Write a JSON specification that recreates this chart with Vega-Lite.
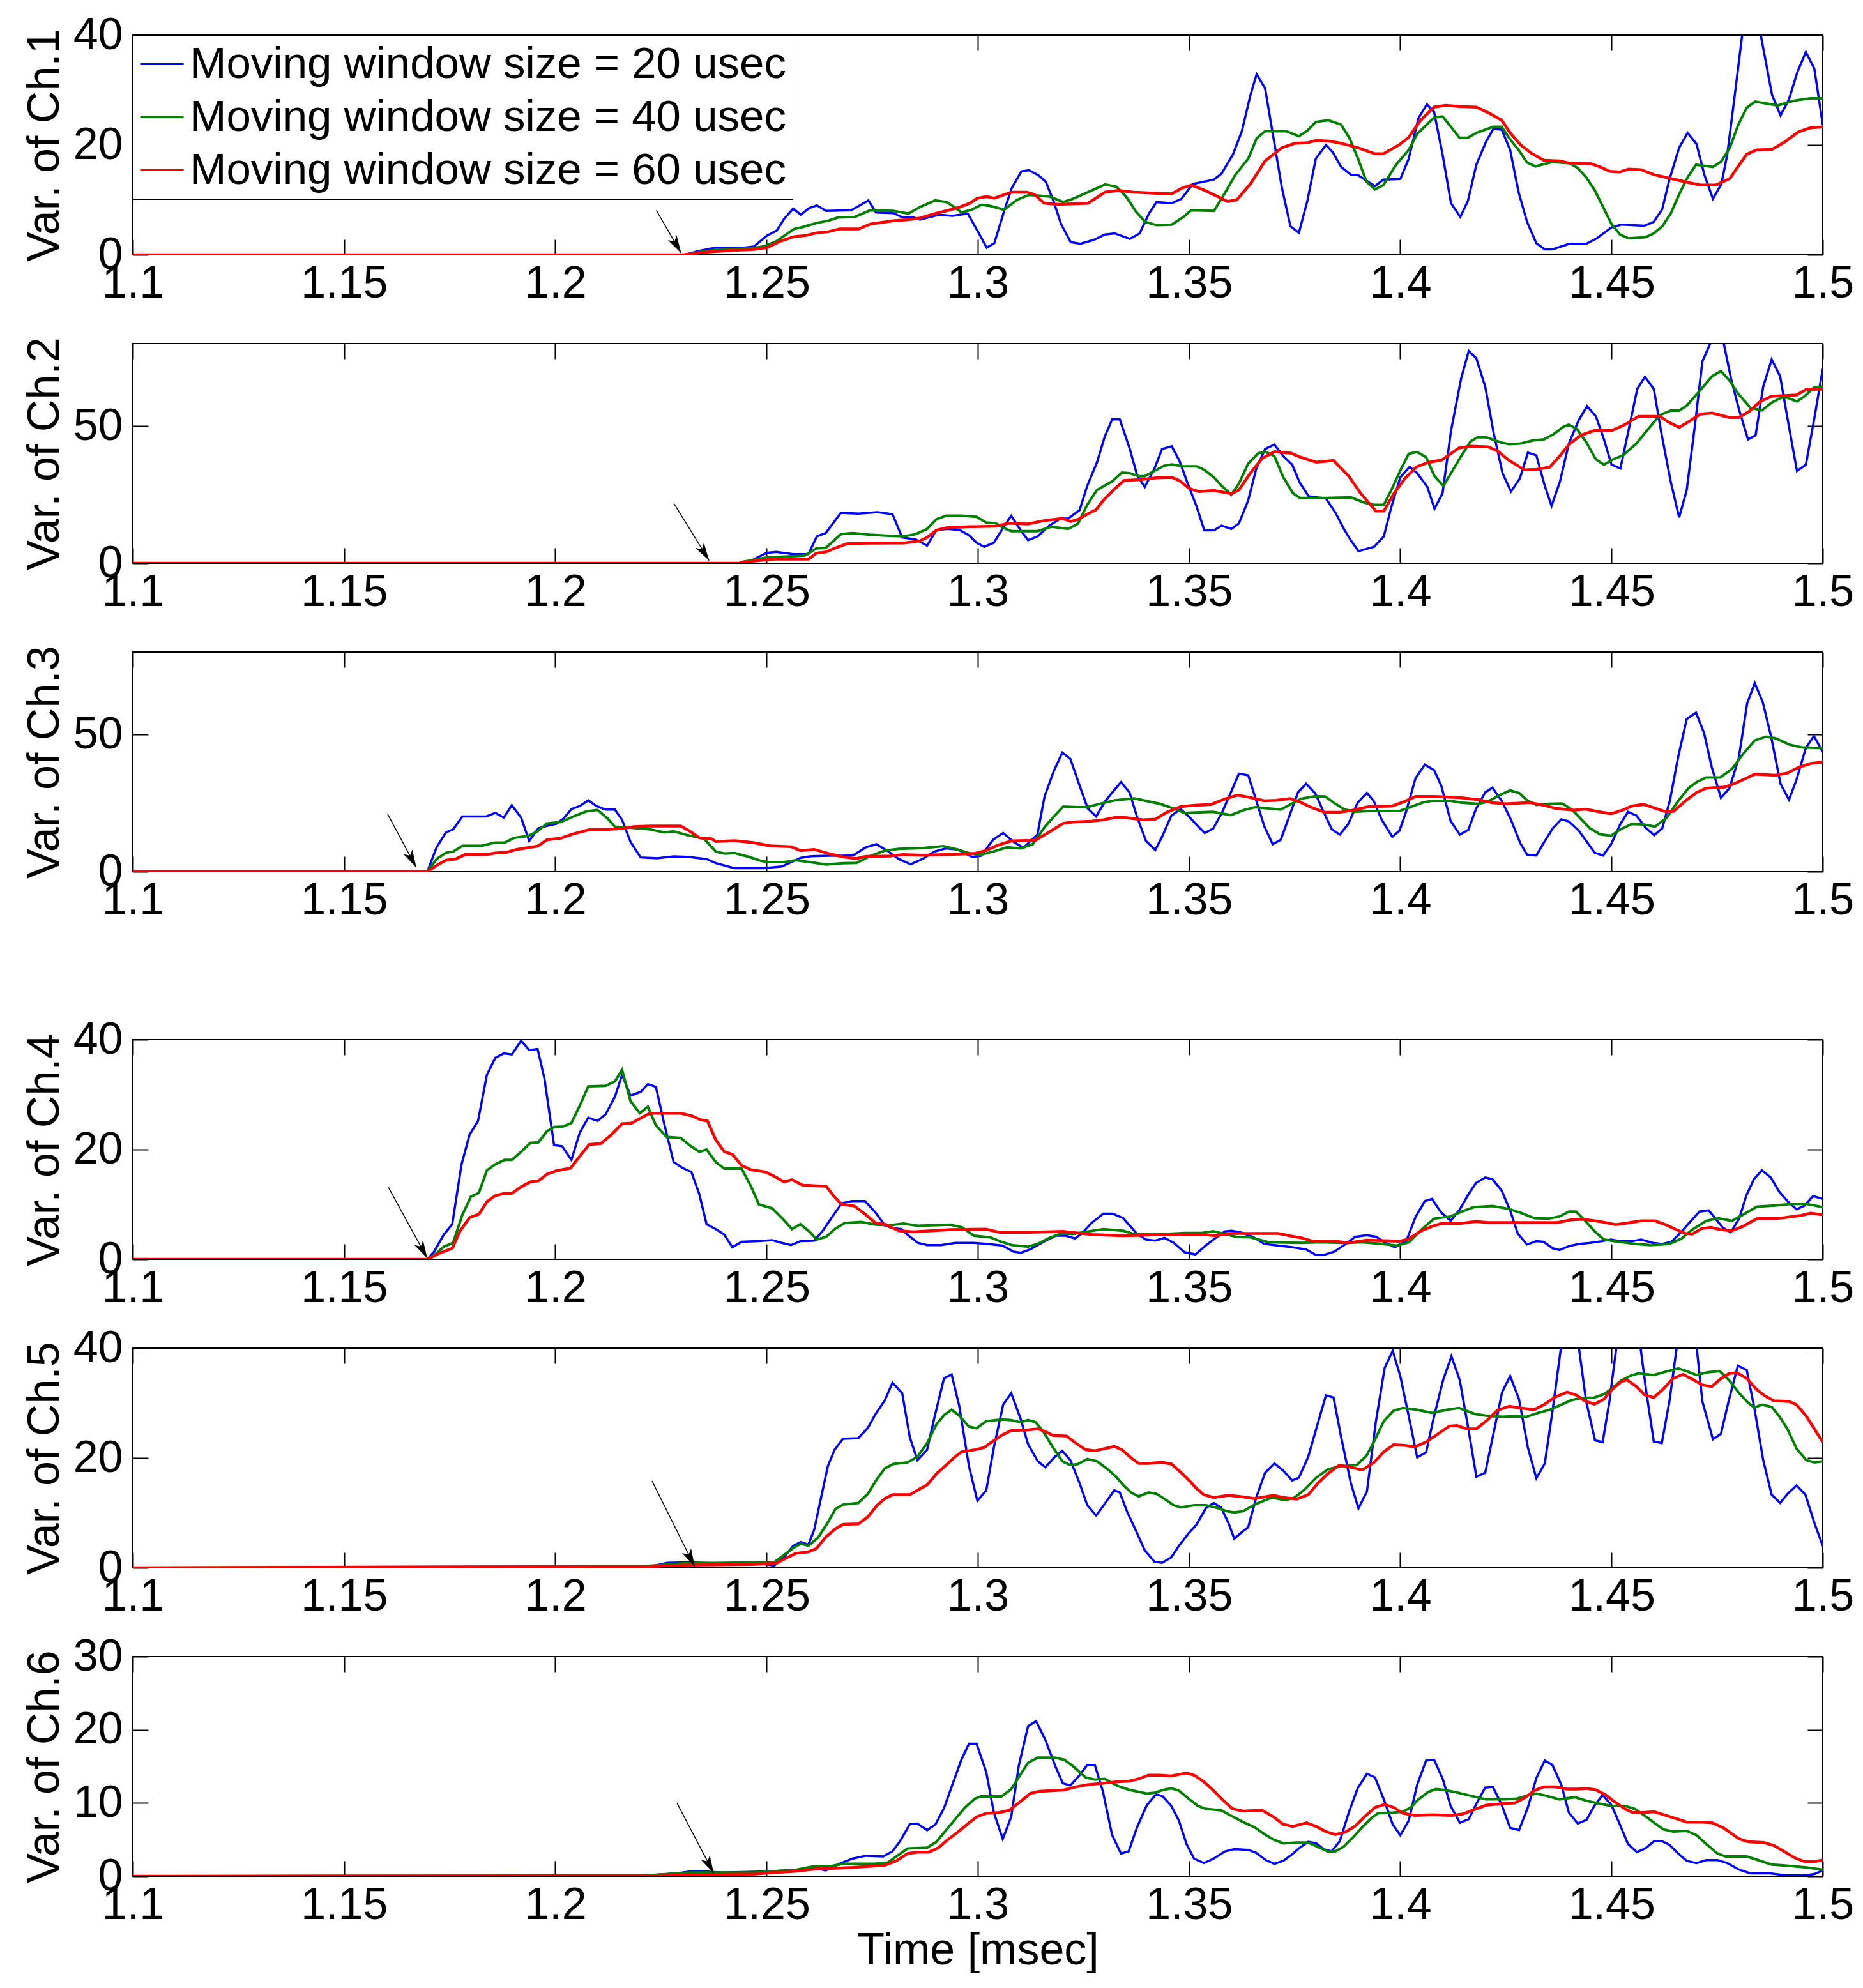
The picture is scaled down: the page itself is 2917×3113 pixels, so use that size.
{
  "$schema": "https://vega.github.io/schema/vega-lite/v6.json",
  "description": "Variance of six channels for moving window sizes of 20, 40 and 60 usec",
  "padding": {"left": 34, "top": 19, "right": 0, "bottom": 0},
  "config": {
    "font": "Liberation Sans",
    "view": {"stroke": "black", "strokeWidth": 2},
    "axis": {
      "grid": false, "domain": false, "tickColor": "black", "tickWidth": 2, "tickSize": -24,
      "labelFont": "Liberation Sans", "labelFontSize": 70, "labelColor": "black",
      "labelFlush": false, "labelOverlap": false, "labelBound": false,
      "titleFont": "Liberation Sans", "titleFontSize": 70, "titleFontWeight": "normal", "titleColor": "black"
    },
    "axisX": {"labelPadding": 35, "titlePadding": 2},
    "axisY": {"labelPadding": 40, "titlePadding": 8}
  },
  "spacing": 40,
  "bounds": "flush",
  "resolve": {"scale": {"x": "independent", "y": "independent", "color": "independent"}, "axis": {"x": "independent", "y": "independent"}, "legend": {"color": "independent"}},
  "vconcat": [
        {
          "width": 2646, "height": 344,
          "resolve": {"axis": {"x": "independent", "y": "independent"}},
          "layer": [
            {
              "data": {"values": [
                {"t":1.1,"v":0},{"t":1.2307,"v":0},{"t":1.2339,"v":0.7},{"t":1.238,"v":1.3},{"t":1.2447,"v":1.3},{"t":1.247,"v":1.5},{"t":1.2501,"v":3.5},{"t":1.2524,"v":4.4},{"t":1.2542,"v":6.6},{"t":1.2563,"v":8.4},{"t":1.2581,"v":7.3},{"t":1.2601,"v":8.5},{"t":1.2619,"v":9},{"t":1.2641,"v":8},{"t":1.27,"v":8.1},{"t":1.2723,"v":9.1},{"t":1.2741,"v":9.9},{"t":1.2759,"v":7.7},{"t":1.28,"v":7.6},{"t":1.2822,"v":6.8},{"t":1.2845,"v":6.9},{"t":1.2863,"v":6.4},{"t":1.2908,"v":7.3},{"t":1.294,"v":7.1},{"t":1.2976,"v":7.5},{"t":1.2999,"v":4.4},{"t":1.3021,"v":1.3},{"t":1.3039,"v":2.1},{"t":1.3062,"v":7.9},{"t":1.308,"v":12.1},{"t":1.3103,"v":15.2},{"t":1.3121,"v":15.4},{"t":1.3143,"v":14.5},{"t":1.3161,"v":13.3},{"t":1.3179,"v":9.8},{"t":1.3197,"v":5.6},{"t":1.322,"v":2.3},{"t":1.3243,"v":2},{"t":1.3274,"v":2.7},{"t":1.3301,"v":3.7},{"t":1.3324,"v":3.9},{"t":1.336,"v":2.9},{"t":1.3383,"v":3.9},{"t":1.3405,"v":7.5},{"t":1.3423,"v":9.6},{"t":1.3459,"v":9.4},{"t":1.3482,"v":10.2},{"t":1.3509,"v":12.9},{"t":1.3559,"v":13.7},{"t":1.3577,"v":14.8},{"t":1.3604,"v":18.3},{"t":1.3625,"v":22.5},{"t":1.3645,"v":29},{"t":1.366,"v":32.9},{"t":1.368,"v":30.3},{"t":1.372,"v":12.1},{"t":1.374,"v":5.2},{"t":1.376,"v":4},{"t":1.378,"v":9.8},{"t":1.38,"v":17.5},{"t":1.3824,"v":20},{"t":1.384,"v":18.7},{"t":1.386,"v":16},{"t":1.3883,"v":14.6},{"t":1.39,"v":14.5},{"t":1.394,"v":12.5},{"t":1.396,"v":13.7},{"t":1.4,"v":13.8},{"t":1.402,"v":17.5},{"t":1.4043,"v":24.9},{"t":1.4063,"v":27.4},{"t":1.408,"v":26},{"t":1.41,"v":18.3},{"t":1.412,"v":9.4},{"t":1.4142,"v":6.9},{"t":1.416,"v":9.8},{"t":1.418,"v":16.4},{"t":1.4203,"v":20.6},{"t":1.422,"v":22.9},{"t":1.424,"v":22.8},{"t":1.426,"v":19.1},{"t":1.428,"v":11.4},{"t":1.43,"v":6},{"t":1.4322,"v":2.1},{"t":1.4342,"v":1},{"t":1.436,"v":1},{"t":1.44,"v":2},{"t":1.444,"v":2},{"t":1.4463,"v":2.9},{"t":1.45,"v":5},{"t":1.4523,"v":5.5},{"t":1.4578,"v":5.3},{"t":1.46,"v":6},{"t":1.462,"v":8.3},{"t":1.4637,"v":13.7},{"t":1.466,"v":19.5},{"t":1.468,"v":22.2},{"t":1.4701,"v":20.2},{"t":1.472,"v":14.5},{"t":1.474,"v":10.2},{"t":1.476,"v":12.9},{"t":1.4774,"v":18.3},{"t":1.4793,"v":29.9},{"t":1.481,"v":40.5},{"t":1.483,"v":44},{"t":1.4852,"v":40.5},{"t":1.488,"v":29.1},{"t":1.49,"v":25.4},{"t":1.492,"v":28.3},{"t":1.494,"v":33.3},{"t":1.496,"v":36.9},{"t":1.498,"v":33.9},{"t":1.5,"v":23.7}
              ]},
              "mark": {"type": "line", "strokeWidth": 3.5, "clip": true},
              "encoding": {
                "x": {"field": "t", "type": "quantitative", "scale": {"domain": [1.1, 1.5], "nice": false}, "axis": {"values": [1.1,1.15,1.2,1.25,1.3,1.35,1.4,1.45,1.5], "format": ".3~f", "title": null}},
                "y": {"field": "v", "type": "quantitative", "scale": {"domain": [0, 40], "nice": false}, "axis": {"values": [0,20,40], "title": "Var. of Ch.1"}},
                "color": {"datum": 20, "type": "nominal", "scale": {"domain": [20,40,60], "range": ["#0000ff","#008000","#ff0000"]},
                  "legend": {"orient": "top-left", "offset": 0, "title": null, "labelExpr": "'Moving window size = ' + datum.label + ' usec'", "symbolType": "stroke", "symbolSize": 4624, "symbolStrokeWidth": 3, "labelFontSize": 69, "labelLimit": 2000, "labelColor": "black", "fillColor": "white", "strokeColor": "black", "padding": 10, "rowPadding": 12, "labelOffset": 8}}
              }
            },
            {
              "data": {"values": [
                {"t":1.1,"v":0},{"t":1.2307,"v":0},{"t":1.2348,"v":0.6},{"t":1.2393,"v":1},{"t":1.2465,"v":1.2},{"t":1.2492,"v":1.5},{"t":1.2524,"v":2.5},{"t":1.2565,"v":4.7},{"t":1.2583,"v":5},{"t":1.2619,"v":5.8},{"t":1.2646,"v":6.2},{"t":1.2669,"v":6.8},{"t":1.2709,"v":6.9},{"t":1.2745,"v":8.1},{"t":1.28,"v":8},{"t":1.2836,"v":7.5},{"t":1.2863,"v":8.7},{"t":1.2899,"v":9.9},{"t":1.2926,"v":9.6},{"t":1.2944,"v":8.7},{"t":1.2962,"v":7.7},{"t":1.2985,"v":8.2},{"t":1.3008,"v":9.1},{"t":1.303,"v":8.9},{"t":1.3062,"v":8.2},{"t":1.3093,"v":10},{"t":1.3121,"v":10.9},{"t":1.317,"v":10.6},{"t":1.3202,"v":9.6},{"t":1.3225,"v":10.2},{"t":1.3261,"v":11.4},{"t":1.3301,"v":12.8},{"t":1.3328,"v":12.4},{"t":1.3351,"v":10.6},{"t":1.3374,"v":7.9},{"t":1.3396,"v":6},{"t":1.3423,"v":5.4},{"t":1.3459,"v":5.5},{"t":1.3487,"v":6.9},{"t":1.3505,"v":8.1},{"t":1.3559,"v":8},{"t":1.3586,"v":11.4},{"t":1.3609,"v":14.5},{"t":1.364,"v":17.5},{"t":1.366,"v":21.2},{"t":1.368,"v":22.5},{"t":1.373,"v":22.5},{"t":1.376,"v":21.6},{"t":1.378,"v":22.6},{"t":1.38,"v":24.2},{"t":1.383,"v":24.5},{"t":1.386,"v":23.7},{"t":1.388,"v":21.2},{"t":1.39,"v":17.5},{"t":1.392,"v":13.3},{"t":1.394,"v":11.9},{"t":1.396,"v":12.7},{"t":1.399,"v":16.4},{"t":1.402,"v":19.1},{"t":1.404,"v":22},{"t":1.408,"v":25},{"t":1.41,"v":25.2},{"t":1.412,"v":23.3},{"t":1.414,"v":21.3},{"t":1.416,"v":21.3},{"t":1.418,"v":22.2},{"t":1.422,"v":23.3},{"t":1.424,"v":23.3},{"t":1.426,"v":21},{"t":1.428,"v":19.1},{"t":1.43,"v":16.8},{"t":1.432,"v":16.1},{"t":1.436,"v":16.9},{"t":1.44,"v":16.7},{"t":1.442,"v":15.8},{"t":1.444,"v":14.1},{"t":1.446,"v":11.8},{"t":1.448,"v":8.7},{"t":1.45,"v":5.6},{"t":1.452,"v":3.7},{"t":1.454,"v":3},{"t":1.458,"v":3.2},{"t":1.46,"v":3.9},{"t":1.462,"v":5.2},{"t":1.464,"v":7.5},{"t":1.466,"v":11},{"t":1.468,"v":14.1},{"t":1.47,"v":16.4},{"t":1.474,"v":16},{"t":1.476,"v":17},{"t":1.478,"v":19.5},{"t":1.48,"v":23.7},{"t":1.482,"v":26.8},{"t":1.484,"v":27.9},{"t":1.4893,"v":27.2},{"t":1.4934,"v":28.1},{"t":1.497,"v":28.5},{"t":1.5,"v":28.5}
              ]},
              "mark": {"type": "line", "strokeWidth": 4, "clip": true},
              "encoding": {
                "x": {"field": "t", "type": "quantitative", "scale": {"domain": [1.1, 1.5], "nice": false}, "axis": null},
                "y": {"field": "v", "type": "quantitative", "scale": {"domain": [0, 40], "nice": false}, "axis": null},
                "color": {"datum": 40, "type": "nominal", "scale": {"domain": [20,40,60], "range": ["#0000ff","#008000","#ff0000"]},
                  "legend": {"orient": "top-left", "offset": 0, "title": null, "labelExpr": "'Moving window size = ' + datum.label + ' usec'", "symbolType": "stroke", "symbolSize": 4624, "symbolStrokeWidth": 3, "labelFontSize": 69, "labelLimit": 2000, "labelColor": "black", "fillColor": "white", "strokeColor": "black", "padding": 10, "rowPadding": 12, "labelOffset": 8}}
              }
            },
            {
              "data": {"values": [
                {"t":1.1,"v":0},{"t":1.2302,"v":0},{"t":1.2357,"v":0.5},{"t":1.242,"v":0.8},{"t":1.247,"v":1},{"t":1.2501,"v":1.3},{"t":1.2533,"v":2.5},{"t":1.2565,"v":3.3},{"t":1.2592,"v":3.5},{"t":1.2619,"v":4},{"t":1.2646,"v":4.2},{"t":1.2673,"v":4.7},{"t":1.2718,"v":4.7},{"t":1.2745,"v":5.6},{"t":1.2773,"v":5.9},{"t":1.28,"v":6.2},{"t":1.2836,"v":6.4},{"t":1.2863,"v":6.7},{"t":1.2899,"v":7.5},{"t":1.2935,"v":8.2},{"t":1.2958,"v":8.7},{"t":1.2981,"v":9.4},{"t":1.2999,"v":10.3},{"t":1.3021,"v":10.6},{"t":1.3039,"v":10.3},{"t":1.3057,"v":10.8},{"t":1.308,"v":11.4},{"t":1.3116,"v":11.4},{"t":1.3134,"v":11},{"t":1.3157,"v":9.4},{"t":1.3188,"v":9.2},{"t":1.3261,"v":9.4},{"t":1.3301,"v":11.4},{"t":1.3333,"v":11.7},{"t":1.3369,"v":11.4},{"t":1.3423,"v":11.2},{"t":1.3459,"v":11.1},{"t":1.3482,"v":12.1},{"t":1.3505,"v":12.7},{"t":1.3532,"v":11.9},{"t":1.3568,"v":10.6},{"t":1.3591,"v":9.7},{"t":1.3613,"v":10},{"t":1.3645,"v":12.9},{"t":1.368,"v":17.1},{"t":1.372,"v":19.5},{"t":1.375,"v":20.3},{"t":1.378,"v":20.4},{"t":1.38,"v":20.8},{"t":1.3833,"v":20.7},{"t":1.386,"v":20.3},{"t":1.39,"v":19.5},{"t":1.394,"v":18.4},{"t":1.396,"v":18.4},{"t":1.3997,"v":20},{"t":1.402,"v":21.4},{"t":1.4048,"v":24.5},{"t":1.408,"v":26.9},{"t":1.4107,"v":27.2},{"t":1.414,"v":27},{"t":1.418,"v":26.9},{"t":1.421,"v":25.8},{"t":1.424,"v":24.5},{"t":1.426,"v":22.2},{"t":1.4285,"v":20},{"t":1.431,"v":18.5},{"t":1.434,"v":17.2},{"t":1.4377,"v":17.1},{"t":1.44,"v":16.7},{"t":1.445,"v":16.6},{"t":1.4473,"v":16},{"t":1.4496,"v":15.2},{"t":1.452,"v":15.1},{"t":1.454,"v":15.6},{"t":1.457,"v":15.5},{"t":1.46,"v":14.6},{"t":1.464,"v":13.9},{"t":1.468,"v":13.2},{"t":1.471,"v":12.7},{"t":1.4747,"v":12.7},{"t":1.478,"v":13.9},{"t":1.4806,"v":16.8},{"t":1.482,"v":18.3},{"t":1.4843,"v":19.1},{"t":1.488,"v":19.2},{"t":1.4907,"v":20.4},{"t":1.4943,"v":22.4},{"t":1.497,"v":23.1},{"t":1.5,"v":23.3}
              ]},
              "mark": {"type": "line", "strokeWidth": 4.5, "clip": true},
              "encoding": {
                "x": {"field": "t", "type": "quantitative", "scale": {"domain": [1.1, 1.5], "nice": false}, "axis": null},
                "y": {"field": "v", "type": "quantitative", "scale": {"domain": [0, 40], "nice": false}, "axis": null},
                "color": {"datum": 60, "type": "nominal", "scale": {"domain": [20,40,60], "range": ["#0000ff","#008000","#ff0000"]},
                  "legend": {"orient": "top-left", "offset": 0, "title": null, "labelExpr": "'Moving window size = ' + datum.label + ' usec'", "symbolType": "stroke", "symbolSize": 4624, "symbolStrokeWidth": 3, "labelFontSize": 69, "labelLimit": 2000, "labelColor": "black", "fillColor": "white", "strokeColor": "black", "padding": 10, "rowPadding": 12, "labelOffset": 8}}
              }
            },
            {
              "data": {"values": [{"t":1.2239,"v":8.1,"t2":1.2298,"v2":0.3}]},
              "mark": {"type": "rule", "color": "black", "strokeWidth": 1.5},
              "encoding": {
                "x": {"field": "t", "type": "quantitative", "scale": {"domain": [1.1, 1.5], "nice": false}, "axis": {"orient": "top", "values": [1.1,1.15,1.2,1.25,1.3,1.35,1.4,1.45,1.5], "labels": false, "title": null}},
                "y": {"field": "v", "type": "quantitative", "scale": {"domain": [0, 40], "nice": false}, "axis": {"orient": "right", "values": [0,20,40], "labels": false, "title": null}},
                "x2": {"field": "t2"}, "y2": {"field": "v2"}
              }
            },
            {
              "data": {"values": [{"t":1.2239,"v":8.1,"t2":1.2298,"v2":0.3}]},
              "mark": {"type": "point", "shape": "M0,0L-0.28,-1L0,-0.75L0.28,-1Z", "filled": true, "size": 3136, "angle": -30, "color": "black", "opacity": 1, "strokeWidth": 0},
              "encoding": {
                "x": {"field": "t2", "type": "quantitative", "scale": {"domain": [1.1, 1.5], "nice": false}, "axis": null},
                "y": {"field": "v2", "type": "quantitative", "scale": {"domain": [0, 40], "nice": false}, "axis": null}
              }
            }
          ]
        },
        {"width": 2646, "height": 59, "view": {"stroke": null}, "data": {"values": [{"gap": 1}]}, "mark": {"type": "text", "text": ""}},
        {
          "width": 2646, "height": 344,
          "resolve": {"axis": {"x": "independent", "y": "independent"}},
          "layer": [
            {
              "data": {"values": [
                {"t":1.1,"v":0},{"t":1.2446,"v":0},{"t":1.2464,"v":1},{"t":1.25,"v":3.8},{"t":1.2523,"v":4.1},{"t":1.2563,"v":3.3},{"t":1.2599,"v":3.3},{"t":1.2619,"v":9.8},{"t":1.264,"v":11},{"t":1.2676,"v":18.4},{"t":1.2717,"v":18.1},{"t":1.2762,"v":18.6},{"t":1.2798,"v":17.9},{"t":1.2821,"v":9.4},{"t":1.2853,"v":8.7},{"t":1.288,"v":6.4},{"t":1.2902,"v":12.1},{"t":1.2929,"v":12.5},{"t":1.2957,"v":12.1},{"t":1.2979,"v":10.2},{"t":1.2997,"v":7.5},{"t":1.3015,"v":6},{"t":1.3038,"v":7.5},{"t":1.306,"v":12.9},{"t":1.3079,"v":17.3},{"t":1.3101,"v":12.1},{"t":1.3119,"v":8.4},{"t":1.3142,"v":9.8},{"t":1.3169,"v":13.7},{"t":1.3196,"v":16.3},{"t":1.3214,"v":16.3},{"t":1.3241,"v":19.4},{"t":1.3259,"v":28.2},{"t":1.3282,"v":36.7},{"t":1.33,"v":45.9},{"t":1.3318,"v":52.4},{"t":1.3336,"v":52.4},{"t":1.3359,"v":42},{"t":1.3377,"v":32.1},{"t":1.3395,"v":27.8},{"t":1.3418,"v":34.4},{"t":1.3436,"v":41.6},{"t":1.3459,"v":42.6},{"t":1.3477,"v":37.4},{"t":1.3495,"v":29.8},{"t":1.3518,"v":20.6},{"t":1.3536,"v":12},{"t":1.3559,"v":12},{"t":1.3577,"v":13.7},{"t":1.36,"v":12.5},{"t":1.3618,"v":14.5},{"t":1.364,"v":22.9},{"t":1.3659,"v":34.4},{"t":1.368,"v":41.6},{"t":1.3702,"v":43.2},{"t":1.3723,"v":39},{"t":1.3744,"v":35.9},{"t":1.3762,"v":29.4},{"t":1.3783,"v":24.4},{"t":1.3824,"v":23.6},{"t":1.3847,"v":18.3},{"t":1.3865,"v":12.9},{"t":1.3883,"v":8.3},{"t":1.3901,"v":4.4},{"t":1.3938,"v":6},{"t":1.3961,"v":9.8},{"t":1.3979,"v":20.6},{"t":1.4,"v":31.3},{"t":1.4022,"v":35.1},{"t":1.404,"v":32.8},{"t":1.4064,"v":27.8},{"t":1.4081,"v":19.9},{"t":1.41,"v":25.5},{"t":1.412,"v":48.2},{"t":1.4144,"v":67.3},{"t":1.4162,"v":77.3},{"t":1.418,"v":74.6},{"t":1.4201,"v":64.3},{"t":1.4221,"v":47.4},{"t":1.4242,"v":32.8},{"t":1.4262,"v":26.1},{"t":1.4283,"v":30.9},{"t":1.4302,"v":40.3},{"t":1.4322,"v":39.3},{"t":1.4342,"v":28.2},{"t":1.4358,"v":20.9},{"t":1.4378,"v":29.8},{"t":1.4399,"v":43.6},{"t":1.4422,"v":52},{"t":1.4442,"v":57.2},{"t":1.4463,"v":53.5},{"t":1.4482,"v":45.1},{"t":1.45,"v":35.9},{"t":1.4521,"v":34.5},{"t":1.4541,"v":48.9},{"t":1.4561,"v":63.5},{"t":1.4579,"v":67.9},{"t":1.46,"v":63.5},{"t":1.4618,"v":47.4},{"t":1.464,"v":29.8},{"t":1.466,"v":16.7},{"t":1.4678,"v":26.7},{"t":1.4697,"v":49.7},{"t":1.4715,"v":73.5},{"t":1.4745,"v":84},{"t":1.4765,"v":80.5},{"t":1.4783,"v":67.1},{"t":1.4801,"v":56.4},{"t":1.4823,"v":45.1},{"t":1.4841,"v":46.6},{"t":1.4859,"v":64.3},{"t":1.4879,"v":74.2},{"t":1.4899,"v":68.1},{"t":1.492,"v":49.7},{"t":1.4939,"v":33.6},{"t":1.496,"v":35.9},{"t":1.498,"v":52.8},{"t":1.5,"v":70.8}
              ]},
              "mark": {"type": "line", "strokeWidth": 3.5, "clip": true, "color": "#0000ff"},
              "encoding": {
                "x": {"field": "t", "type": "quantitative", "scale": {"domain": [1.1, 1.5], "nice": false}, "axis": {"values": [1.1,1.15,1.2,1.25,1.3,1.35,1.4,1.45,1.5], "format": ".3~f", "title": null}},
                "y": {"field": "v", "type": "quantitative", "scale": {"domain": [0, 80], "nice": false}, "axis": {"values": [0,50], "title": "Var. of Ch.2"}}
              }
            },
            {
              "data": {"values": [
                {"t":1.1,"v":0},{"t":1.2436,"v":0},{"t":1.2446,"v":0.6},{"t":1.25,"v":2.1},{"t":1.2527,"v":2.3},{"t":1.259,"v":2.8},{"t":1.2618,"v":5.4},{"t":1.264,"v":5.6},{"t":1.2676,"v":10.6},{"t":1.2703,"v":11},{"t":1.2744,"v":10.4},{"t":1.2789,"v":10},{"t":1.2825,"v":9.8},{"t":1.2853,"v":10.6},{"t":1.288,"v":12.5},{"t":1.2902,"v":16},{"t":1.2925,"v":17.3},{"t":1.2961,"v":17.3},{"t":1.2997,"v":16.9},{"t":1.302,"v":14.8},{"t":1.3042,"v":14.6},{"t":1.306,"v":12.9},{"t":1.3079,"v":11.7},{"t":1.3142,"v":11.7},{"t":1.3174,"v":13.3},{"t":1.3214,"v":12.5},{"t":1.3237,"v":14.4},{"t":1.3259,"v":21.3},{"t":1.3282,"v":26.7},{"t":1.3318,"v":29.8},{"t":1.3341,"v":33},{"t":1.3359,"v":32.8},{"t":1.3382,"v":31.7},{"t":1.3395,"v":31.7},{"t":1.3418,"v":33.6},{"t":1.3441,"v":35.5},{"t":1.3459,"v":36},{"t":1.3486,"v":35.3},{"t":1.3518,"v":35.3},{"t":1.3536,"v":34},{"t":1.3559,"v":31.3},{"t":1.3577,"v":28.2},{"t":1.36,"v":25},{"t":1.3618,"v":29},{"t":1.364,"v":36.3},{"t":1.3664,"v":40.1},{"t":1.3682,"v":40.5},{"t":1.3702,"v":39},{"t":1.3723,"v":31.3},{"t":1.3746,"v":25.5},{"t":1.3762,"v":23.8},{"t":1.3824,"v":23.8},{"t":1.3883,"v":24},{"t":1.3915,"v":22.1},{"t":1.3938,"v":21.3},{"t":1.3961,"v":21.3},{"t":1.3979,"v":26.7},{"t":1.4002,"v":34.4},{"t":1.402,"v":39.9},{"t":1.404,"v":40.5},{"t":1.4061,"v":38.6},{"t":1.4081,"v":31.7},{"t":1.4102,"v":28.2},{"t":1.412,"v":32.8},{"t":1.4144,"v":39},{"t":1.4166,"v":44.3},{"t":1.4183,"v":45.9},{"t":1.4203,"v":45.9},{"t":1.424,"v":43.9},{"t":1.4258,"v":43.4},{"t":1.4285,"v":43.6},{"t":1.4313,"v":44.7},{"t":1.434,"v":45.1},{"t":1.4363,"v":47},{"t":1.4386,"v":49.7},{"t":1.4399,"v":50.5},{"t":1.4418,"v":48.9},{"t":1.4441,"v":43.9},{"t":1.4463,"v":37.8},{"t":1.4482,"v":35.9},{"t":1.4503,"v":37.8},{"t":1.4527,"v":39.3},{"t":1.4559,"v":43.6},{"t":1.4587,"v":48.9},{"t":1.4614,"v":53.9},{"t":1.464,"v":55.6},{"t":1.466,"v":55.6},{"t":1.4678,"v":57.4},{"t":1.4706,"v":62.3},{"t":1.4738,"v":68.1},{"t":1.4759,"v":70},{"t":1.4779,"v":66.6},{"t":1.4801,"v":61.5},{"t":1.4829,"v":56.6},{"t":1.4856,"v":55.7},{"t":1.4879,"v":58.5},{"t":1.4902,"v":60.3},{"t":1.4916,"v":60.3},{"t":1.4939,"v":58.9},{"t":1.4957,"v":60.8},{"t":1.498,"v":64.1},{"t":1.5,"v":64.4}
              ]},
              "mark": {"type": "line", "strokeWidth": 4, "clip": true, "color": "#008000"},
              "encoding": {
                "x": {"field": "t", "type": "quantitative", "scale": {"domain": [1.1, 1.5], "nice": false}, "axis": null},
                "y": {"field": "v", "type": "quantitative", "scale": {"domain": [0, 80], "nice": false}, "axis": null}
              }
            },
            {
              "data": {"values": [
                {"t":1.1,"v":0},{"t":1.2436,"v":0},{"t":1.2446,"v":0.5},{"t":1.2482,"v":1},{"t":1.2518,"v":1.5},{"t":1.2599,"v":1.5},{"t":1.2618,"v":3.7},{"t":1.264,"v":4.1},{"t":1.2664,"v":5.6},{"t":1.269,"v":7.1},{"t":1.2735,"v":7.3},{"t":1.2825,"v":7.4},{"t":1.2862,"v":8.1},{"t":1.288,"v":9.4},{"t":1.2902,"v":12},{"t":1.2925,"v":12.9},{"t":1.2979,"v":13.3},{"t":1.3042,"v":13.5},{"t":1.3074,"v":14.6},{"t":1.3097,"v":14.4},{"t":1.3119,"v":14.3},{"t":1.316,"v":15.6},{"t":1.32,"v":16.3},{"t":1.322,"v":15.2},{"t":1.3238,"v":16},{"t":1.3259,"v":17.9},{"t":1.3279,"v":19.4},{"t":1.3297,"v":22.9},{"t":1.3324,"v":27.1},{"t":1.3346,"v":30.1},{"t":1.3387,"v":30.5},{"t":1.3423,"v":31.1},{"t":1.3459,"v":31.3},{"t":1.3477,"v":30.1},{"t":1.35,"v":27.3},{"t":1.3523,"v":26.1},{"t":1.3559,"v":26.5},{"t":1.36,"v":25.3},{"t":1.3618,"v":26.7},{"t":1.3645,"v":32.8},{"t":1.3673,"v":38.2},{"t":1.3702,"v":40.6},{"t":1.3741,"v":40.1},{"t":1.3764,"v":38.6},{"t":1.3801,"v":36.8},{"t":1.3842,"v":37.4},{"t":1.3878,"v":31.7},{"t":1.3906,"v":25.5},{"t":1.3942,"v":19},{"t":1.3961,"v":19},{"t":1.3984,"v":25.2},{"t":1.4011,"v":30.9},{"t":1.4038,"v":35.1},{"t":1.4066,"v":36.7},{"t":1.4098,"v":37.6},{"t":1.4139,"v":42},{"t":1.4166,"v":42.6},{"t":1.4208,"v":42.4},{"t":1.423,"v":40.9},{"t":1.4258,"v":37.4},{"t":1.4294,"v":34},{"t":1.4322,"v":34.2},{"t":1.4354,"v":35},{"t":1.4377,"v":39},{"t":1.4399,"v":43.2},{"t":1.4427,"v":46.6},{"t":1.4459,"v":48.3},{"t":1.45,"v":48.3},{"t":1.4532,"v":50.5},{"t":1.4564,"v":53.5},{"t":1.4614,"v":53.5},{"t":1.4637,"v":51.2},{"t":1.466,"v":49.5},{"t":1.4683,"v":51.6},{"t":1.471,"v":54.3},{"t":1.4738,"v":54.7},{"t":1.4779,"v":53.1},{"t":1.4801,"v":53.1},{"t":1.4824,"v":55.1},{"t":1.4852,"v":58.9},{"t":1.4879,"v":60.8},{"t":1.4938,"v":61.3},{"t":1.4961,"v":63.3},{"t":1.5,"v":63.4}
              ]},
              "mark": {"type": "line", "strokeWidth": 4.5, "clip": true, "color": "#ff0000"},
              "encoding": {
                "x": {"field": "t", "type": "quantitative", "scale": {"domain": [1.1, 1.5], "nice": false}, "axis": null},
                "y": {"field": "v", "type": "quantitative", "scale": {"domain": [0, 80], "nice": false}, "axis": null}
              }
            },
            {
              "data": {"values": [{"t":1.2281,"v":21.7,"t2":1.2364,"v2":1}]},
              "mark": {"type": "rule", "color": "black", "strokeWidth": 1.5},
              "encoding": {
                "x": {"field": "t", "type": "quantitative", "scale": {"domain": [1.1, 1.5], "nice": false}, "axis": {"orient": "top", "values": [1.1,1.15,1.2,1.25,1.3,1.35,1.4,1.45,1.5], "labels": false, "title": null}},
                "y": {"field": "v", "type": "quantitative", "scale": {"domain": [0, 80], "nice": false}, "axis": {"orient": "right", "values": [0,50], "labels": false, "title": null}},
                "x2": {"field": "t2"}, "y2": {"field": "v2"}
              }
            },
            {
              "data": {"values": [{"t":1.2281,"v":21.7,"t2":1.2364,"v2":1}]},
              "mark": {"type": "point", "shape": "M0,0L-0.28,-1L0,-0.75L0.28,-1Z", "filled": true, "size": 3136, "angle": -32, "color": "black", "opacity": 1, "strokeWidth": 0},
              "encoding": {
                "x": {"field": "t2", "type": "quantitative", "scale": {"domain": [1.1, 1.5], "nice": false}, "axis": null},
                "y": {"field": "v2", "type": "quantitative", "scale": {"domain": [0, 80], "nice": false}, "axis": null}
              }
            }
          ]
        },
        {"width": 2646, "height": 59, "view": {"stroke": null}, "data": {"values": [{"gap": 1}]}, "mark": {"type": "text", "text": ""}},
        {
          "width": 2646, "height": 344,
          "resolve": {"axis": {"x": "independent", "y": "independent"}},
          "layer": [
            {
              "data": {"values": [
                {"t":1.1,"v":0},{"t":1.1697,"v":0},{"t":1.1719,"v":8.9},{"t":1.1741,"v":14.3},{"t":1.1758,"v":15.4},{"t":1.178,"v":20.1},{"t":1.1836,"v":20.1},{"t":1.1858,"v":21.4},{"t":1.1878,"v":19.7},{"t":1.1897,"v":24.2},{"t":1.1919,"v":19.7},{"t":1.1938,"v":11.2},{"t":1.196,"v":15.8},{"t":1.198,"v":16.7},{"t":1.2002,"v":17.4},{"t":1.2019,"v":19.3},{"t":1.2038,"v":22.8},{"t":1.2058,"v":23.9},{"t":1.2078,"v":26},{"t":1.2097,"v":23.9},{"t":1.2119,"v":22.6},{"t":1.2141,"v":22.6},{"t":1.2158,"v":18.9},{"t":1.2178,"v":10.8},{"t":1.2202,"v":5.2},{"t":1.2241,"v":4.9},{"t":1.228,"v":5.6},{"t":1.2313,"v":5.4},{"t":1.2358,"v":4.6},{"t":1.238,"v":3.1},{"t":1.2424,"v":1.3},{"t":1.2491,"v":1.3},{"t":1.2536,"v":1.9},{"t":1.258,"v":5},{"t":1.2602,"v":5.6},{"t":1.2647,"v":5.8},{"t":1.2685,"v":5.9},{"t":1.2708,"v":6.2},{"t":1.2735,"v":8.9},{"t":1.276,"v":10},{"t":1.2785,"v":7.7},{"t":1.2813,"v":4.6},{"t":1.2841,"v":2.7},{"t":1.2869,"v":4.6},{"t":1.2897,"v":7.3},{"t":1.2924,"v":8.5},{"t":1.2952,"v":8.1},{"t":1.2986,"v":5.4},{"t":1.3008,"v":5.8},{"t":1.3036,"v":11.6},{"t":1.306,"v":14.1},{"t":1.3085,"v":10.8},{"t":1.3108,"v":8.7},{"t":1.3141,"v":13.5},{"t":1.3158,"v":27.4},{"t":1.318,"v":36.7},{"t":1.32,"v":43.4},{"t":1.3219,"v":41.1},{"t":1.3241,"v":31.3},{"t":1.326,"v":23.1},{"t":1.328,"v":20.1},{"t":1.3302,"v":25.8},{"t":1.3324,"v":29.9},{"t":1.3339,"v":32.6},{"t":1.3359,"v":28.9},{"t":1.3376,"v":20.4},{"t":1.3398,"v":11.2},{"t":1.342,"v":7.9},{"t":1.3436,"v":12.7},{"t":1.3458,"v":20.4},{"t":1.348,"v":22.8},{"t":1.3502,"v":19.7},{"t":1.3522,"v":16.4},{"t":1.3537,"v":14.1},{"t":1.3557,"v":15.7},{"t":1.3577,"v":21.2},{"t":1.3599,"v":28.9},{"t":1.3618,"v":35.7},{"t":1.364,"v":35.1},{"t":1.3656,"v":27.4},{"t":1.3678,"v":16.6},{"t":1.3698,"v":10},{"t":1.3717,"v":11.6},{"t":1.3736,"v":19.7},{"t":1.3758,"v":28.9},{"t":1.3777,"v":32},{"t":1.3799,"v":28.5},{"t":1.3819,"v":21.6},{"t":1.3838,"v":15.4},{"t":1.3857,"v":13.5},{"t":1.3877,"v":17.4},{"t":1.3899,"v":25.1},{"t":1.3921,"v":28.7},{"t":1.3937,"v":25.8},{"t":1.3956,"v":18.9},{"t":1.3981,"v":12.7},{"t":1.3998,"v":14.9},{"t":1.4014,"v":22},{"t":1.4036,"v":34},{"t":1.4058,"v":39},{"t":1.408,"v":37},{"t":1.4097,"v":31.3},{"t":1.4119,"v":18.5},{"t":1.4141,"v":13.5},{"t":1.4161,"v":15.2},{"t":1.4179,"v":22.8},{"t":1.4201,"v":28.9},{"t":1.4218,"v":30.6},{"t":1.424,"v":25.8},{"t":1.4262,"v":18.9},{"t":1.4284,"v":10.4},{"t":1.43,"v":6.2},{"t":1.4322,"v":5.9},{"t":1.4339,"v":10.4},{"t":1.4361,"v":15.8},{"t":1.4381,"v":19.1},{"t":1.4399,"v":18.3},{"t":1.4422,"v":15},{"t":1.444,"v":11.2},{"t":1.446,"v":6.9},{"t":1.448,"v":5.9},{"t":1.4499,"v":10},{"t":1.4521,"v":17.4},{"t":1.4539,"v":21.8},{"t":1.4559,"v":20.4},{"t":1.4581,"v":16},{"t":1.4601,"v":13.3},{"t":1.462,"v":15.8},{"t":1.4638,"v":25.8},{"t":1.4658,"v":42},{"t":1.4678,"v":55.6},{"t":1.47,"v":57.9},{"t":1.4719,"v":50.5},{"t":1.4737,"v":38.2},{"t":1.4759,"v":26.9},{"t":1.4779,"v":30.4},{"t":1.4801,"v":41.3},{"t":1.4821,"v":61.3},{"t":1.4839,"v":68.7},{"t":1.4858,"v":61.7},{"t":1.4878,"v":49},{"t":1.49,"v":32},{"t":1.492,"v":26.2},{"t":1.4938,"v":33.6},{"t":1.496,"v":45.1},{"t":1.4979,"v":49.4},{"t":1.5,"v":43.6}
              ]},
              "mark": {"type": "line", "strokeWidth": 3.5, "clip": true, "color": "#0000ff"},
              "encoding": {
                "x": {"field": "t", "type": "quantitative", "scale": {"domain": [1.1, 1.5], "nice": false}, "axis": {"values": [1.1,1.15,1.2,1.25,1.3,1.35,1.4,1.45,1.5], "format": ".3~f", "title": null}},
                "y": {"field": "v", "type": "quantitative", "scale": {"domain": [0, 80], "nice": false}, "axis": {"values": [0,50], "title": "Var. of Ch.3"}}
              }
            },
            {
              "data": {"values": [
                {"t":1.1,"v":0},{"t":1.1697,"v":0},{"t":1.1719,"v":4.6},{"t":1.1741,"v":6.9},{"t":1.1758,"v":7.3},{"t":1.178,"v":9.4},{"t":1.1824,"v":9.4},{"t":1.1858,"v":10.6},{"t":1.188,"v":10.6},{"t":1.1902,"v":12.3},{"t":1.1936,"v":13},{"t":1.1958,"v":14.7},{"t":1.198,"v":17.6},{"t":1.2013,"v":18.1},{"t":1.2047,"v":20.4},{"t":1.2074,"v":22},{"t":1.21,"v":22.5},{"t":1.2124,"v":19.3},{"t":1.2141,"v":16.4},{"t":1.2163,"v":16.2},{"t":1.2224,"v":15.4},{"t":1.2258,"v":14.3},{"t":1.228,"v":14.7},{"t":1.2313,"v":13.3},{"t":1.2352,"v":12},{"t":1.238,"v":7.3},{"t":1.2402,"v":6.6},{"t":1.2424,"v":6.8},{"t":1.2458,"v":5.4},{"t":1.2486,"v":4},{"t":1.2502,"v":3.5},{"t":1.2541,"v":3.5},{"t":1.2569,"v":4.2},{"t":1.2602,"v":3.5},{"t":1.2641,"v":2.6},{"t":1.268,"v":3.1},{"t":1.2713,"v":3.2},{"t":1.2747,"v":5.8},{"t":1.278,"v":7.7},{"t":1.2813,"v":8.3},{"t":1.2869,"v":8.6},{"t":1.2919,"v":9.3},{"t":1.2952,"v":8.1},{"t":1.298,"v":6.7},{"t":1.3008,"v":6.2},{"t":1.3036,"v":7.3},{"t":1.3069,"v":8.9},{"t":1.3102,"v":8.5},{"t":1.313,"v":10},{"t":1.3158,"v":16.2},{"t":1.318,"v":20.1},{"t":1.3202,"v":23.7},{"t":1.3236,"v":23.5},{"t":1.3258,"v":23.5},{"t":1.3291,"v":24.8},{"t":1.3324,"v":26},{"t":1.337,"v":26.7},{"t":1.3431,"v":24.7},{"t":1.3464,"v":23},{"t":1.3489,"v":21.4},{"t":1.3524,"v":21.6},{"t":1.3557,"v":21.8},{"t":1.3599,"v":20.6},{"t":1.3629,"v":22.4},{"t":1.3656,"v":23.5},{"t":1.3717,"v":22.6},{"t":1.3739,"v":24.4},{"t":1.3766,"v":26.6},{"t":1.3799,"v":27.5},{"t":1.3822,"v":27.4},{"t":1.3843,"v":25.1},{"t":1.3866,"v":22.8},{"t":1.3888,"v":21.8},{"t":1.3926,"v":22.1},{"t":1.3998,"v":22.1},{"t":1.402,"v":23.3},{"t":1.4053,"v":25.2},{"t":1.4075,"v":25.8},{"t":1.4119,"v":25.8},{"t":1.4146,"v":25.1},{"t":1.4185,"v":24.7},{"t":1.4207,"v":25.5},{"t":1.4234,"v":27.8},{"t":1.426,"v":29.6},{"t":1.4282,"v":28.6},{"t":1.43,"v":26},{"t":1.4322,"v":24.3},{"t":1.435,"v":24.7},{"t":1.4383,"v":24.8},{"t":1.4405,"v":22.8},{"t":1.4427,"v":19.3},{"t":1.4449,"v":15.8},{"t":1.4473,"v":13.6},{"t":1.4499,"v":13.1},{"t":1.4521,"v":15.4},{"t":1.4548,"v":17.4},{"t":1.4576,"v":17.2},{"t":1.4603,"v":16.4},{"t":1.4631,"v":19.7},{"t":1.4658,"v":25.8},{"t":1.4682,"v":30.4},{"t":1.4702,"v":32.7},{"t":1.4724,"v":34.3},{"t":1.4757,"v":34.3},{"t":1.4785,"v":37.4},{"t":1.4811,"v":42.8},{"t":1.4839,"v":47.8},{"t":1.4866,"v":49.2},{"t":1.4888,"v":48.6},{"t":1.4921,"v":46.3},{"t":1.4949,"v":45.3},{"t":1.5,"v":45}
              ]},
              "mark": {"type": "line", "strokeWidth": 4, "clip": true, "color": "#008000"},
              "encoding": {
                "x": {"field": "t", "type": "quantitative", "scale": {"domain": [1.1, 1.5], "nice": false}, "axis": null},
                "y": {"field": "v", "type": "quantitative", "scale": {"domain": [0, 80], "nice": false}, "axis": null}
              }
            },
            {
              "data": {"values": [
                {"t":1.1,"v":0},{"t":1.1697,"v":0},{"t":1.1719,"v":2.3},{"t":1.1741,"v":4.2},{"t":1.1763,"v":4.6},{"t":1.1786,"v":6.2},{"t":1.1836,"v":6.2},{"t":1.1858,"v":6.8},{"t":1.1886,"v":7.1},{"t":1.1908,"v":8.1},{"t":1.1958,"v":9.3},{"t":1.198,"v":11.6},{"t":1.2013,"v":12.2},{"t":1.2041,"v":13.7},{"t":1.208,"v":15.3},{"t":1.2124,"v":15.4},{"t":1.2158,"v":15.7},{"t":1.2186,"v":16.4},{"t":1.2224,"v":16.6},{"t":1.2297,"v":16.6},{"t":1.2319,"v":14.7},{"t":1.2341,"v":12.3},{"t":1.2369,"v":12},{"t":1.238,"v":11},{"t":1.2424,"v":11.3},{"t":1.2469,"v":10.6},{"t":1.2508,"v":9.4},{"t":1.2558,"v":9.1},{"t":1.258,"v":7.7},{"t":1.2613,"v":8.1},{"t":1.2647,"v":6.6},{"t":1.268,"v":5.4},{"t":1.2713,"v":4.8},{"t":1.2735,"v":5.6},{"t":1.2791,"v":5.7},{"t":1.2824,"v":6.2},{"t":1.2869,"v":6},{"t":1.2935,"v":6.3},{"t":1.2991,"v":6.6},{"t":1.3019,"v":7.7},{"t":1.3047,"v":9.6},{"t":1.308,"v":11.2},{"t":1.3136,"v":11.4},{"t":1.3163,"v":13.9},{"t":1.3202,"v":17.6},{"t":1.3224,"v":18.1},{"t":1.3269,"v":18.4},{"t":1.3297,"v":18.9},{"t":1.3324,"v":19.7},{"t":1.3344,"v":19.8},{"t":1.337,"v":19.3},{"t":1.3392,"v":18.9},{"t":1.342,"v":19.1},{"t":1.3447,"v":21.6},{"t":1.348,"v":23.7},{"t":1.3513,"v":24.2},{"t":1.3552,"v":24.5},{"t":1.3585,"v":26.5},{"t":1.3615,"v":27.9},{"t":1.3645,"v":27},{"t":1.3678,"v":25.8},{"t":1.3706,"v":26},{"t":1.3739,"v":26.6},{"t":1.3761,"v":25.5},{"t":1.3788,"v":23.5},{"t":1.3821,"v":21.6},{"t":1.3855,"v":21.6},{"t":1.3888,"v":22.4},{"t":1.3926,"v":23.7},{"t":1.3981,"v":23.9},{"t":1.4009,"v":25.5},{"t":1.4036,"v":27.4},{"t":1.408,"v":27.4},{"t":1.4141,"v":27},{"t":1.4185,"v":26.2},{"t":1.4218,"v":25.1},{"t":1.4251,"v":24.7},{"t":1.4306,"v":25.2},{"t":1.4339,"v":24.2},{"t":1.4367,"v":23.1},{"t":1.4411,"v":22.4},{"t":1.4438,"v":22.8},{"t":1.4471,"v":21.8},{"t":1.4499,"v":21.1},{"t":1.4526,"v":22.4},{"t":1.4548,"v":23.9},{"t":1.4576,"v":24.5},{"t":1.4603,"v":23.1},{"t":1.4625,"v":22},{"t":1.4647,"v":22},{"t":1.4675,"v":25.8},{"t":1.4702,"v":28.9},{"t":1.4724,"v":30.4},{"t":1.4768,"v":30.8},{"t":1.479,"v":32},{"t":1.4817,"v":33.9},{"t":1.4839,"v":35.5},{"t":1.4888,"v":35.1},{"t":1.4916,"v":35.9},{"t":1.4943,"v":38},{"t":1.4971,"v":39.4},{"t":1.5,"v":39.9}
              ]},
              "mark": {"type": "line", "strokeWidth": 4.5, "clip": true, "color": "#ff0000"},
              "encoding": {
                "x": {"field": "t", "type": "quantitative", "scale": {"domain": [1.1, 1.5], "nice": false}, "axis": null},
                "y": {"field": "v", "type": "quantitative", "scale": {"domain": [0, 80], "nice": false}, "axis": null}
              }
            },
            {
              "data": {"values": [{"t":1.1603,"v":21,"t2":1.1671,"v2":1.5}]},
              "mark": {"type": "rule", "color": "black", "strokeWidth": 1.5},
              "encoding": {
                "x": {"field": "t", "type": "quantitative", "scale": {"domain": [1.1, 1.5], "nice": false}, "axis": {"orient": "top", "values": [1.1,1.15,1.2,1.25,1.3,1.35,1.4,1.45,1.5], "labels": false, "title": null}},
                "y": {"field": "v", "type": "quantitative", "scale": {"domain": [0, 80], "nice": false}, "axis": {"orient": "right", "values": [0,50], "labels": false, "title": null}},
                "x2": {"field": "t2"}, "y2": {"field": "v2"}
              }
            },
            {
              "data": {"values": [{"t":1.1603,"v":21,"t2":1.1671,"v2":1.5}]},
              "mark": {"type": "point", "shape": "M0,0L-0.28,-1L0,-0.75L0.28,-1Z", "filled": true, "size": 3136, "angle": -28, "color": "black", "opacity": 1, "strokeWidth": 0},
              "encoding": {
                "x": {"field": "t2", "type": "quantitative", "scale": {"domain": [1.1, 1.5], "nice": false}, "axis": null},
                "y": {"field": "v2", "type": "quantitative", "scale": {"domain": [0, 80], "nice": false}, "axis": null}
              }
            }
          ]
        },
        {"width": 2646, "height": 183, "view": {"stroke": null}, "data": {"values": [{"gap": 1}]}, "mark": {"type": "text", "text": ""}},
        {
          "width": 2646, "height": 344,
          "resolve": {"axis": {"x": "independent", "y": "independent"}},
          "layer": [
            {
              "data": {"values": [
                {"t":1.1,"v":0},{"t":1.1697,"v":0},{"t":1.1713,"v":1.4},{"t":1.1736,"v":4.5},{"t":1.1756,"v":6.4},{"t":1.1778,"v":17.3},{"t":1.1797,"v":22.7},{"t":1.1817,"v":25.2},{"t":1.1838,"v":33.6},{"t":1.1858,"v":36.7},{"t":1.1878,"v":37.5},{"t":1.1897,"v":37.3},{"t":1.1919,"v":39.8},{"t":1.1938,"v":38.1},{"t":1.1958,"v":38.3},{"t":1.1974,"v":33},{"t":1.1997,"v":20.8},{"t":1.2016,"v":20.6},{"t":1.2038,"v":18.1},{"t":1.2058,"v":23.1},{"t":1.2078,"v":25.8},{"t":1.21,"v":25.2},{"t":1.2119,"v":26.4},{"t":1.2141,"v":29.6},{"t":1.2158,"v":33.6},{"t":1.2178,"v":29.8},{"t":1.2202,"v":30.5},{"t":1.2219,"v":31.9},{"t":1.2238,"v":31.4},{"t":1.2258,"v":24.6},{"t":1.228,"v":17.7},{"t":1.2302,"v":16.6},{"t":1.2322,"v":15.9},{"t":1.2341,"v":11.8},{"t":1.2358,"v":6.4},{"t":1.238,"v":5.5},{"t":1.24,"v":4.5},{"t":1.2419,"v":2.2},{"t":1.2441,"v":3.2},{"t":1.248,"v":3.3},{"t":1.2513,"v":3.5},{"t":1.2536,"v":3},{"t":1.2558,"v":2.6},{"t":1.258,"v":3.3},{"t":1.2613,"v":3.4},{"t":1.2635,"v":5.4},{"t":1.2655,"v":7.7},{"t":1.2678,"v":10.2},{"t":1.2702,"v":10.6},{"t":1.2733,"v":10.6},{"t":1.2758,"v":8.5},{"t":1.278,"v":6.2},{"t":1.2797,"v":5.7},{"t":1.2819,"v":5.5},{"t":1.2835,"v":4.4},{"t":1.2858,"v":3},{"t":1.288,"v":2.6},{"t":1.2913,"v":2.6},{"t":1.2947,"v":3},{"t":1.2991,"v":3},{"t":1.3024,"v":2.8},{"t":1.3058,"v":2.5},{"t":1.3085,"v":1.4},{"t":1.3102,"v":1.2},{"t":1.3124,"v":1.8},{"t":1.3158,"v":3.3},{"t":1.3185,"v":4.3},{"t":1.3208,"v":4.3},{"t":1.323,"v":3.8},{"t":1.3246,"v":4.7},{"t":1.3269,"v":6.6},{"t":1.3297,"v":8.3},{"t":1.3319,"v":8.3},{"t":1.3344,"v":7.5},{"t":1.3376,"v":4.7},{"t":1.3398,"v":3.6},{"t":1.342,"v":3.4},{"t":1.3442,"v":3.9},{"t":1.3464,"v":3},{"t":1.3489,"v":1.3},{"t":1.3515,"v":0.9},{"t":1.3541,"v":2.6},{"t":1.3563,"v":3.9},{"t":1.3585,"v":5.1},{"t":1.3601,"v":5.2},{"t":1.3623,"v":4.9},{"t":1.3651,"v":4.1},{"t":1.3678,"v":2.8},{"t":1.3711,"v":2.5},{"t":1.3744,"v":2.2},{"t":1.3777,"v":1.8},{"t":1.38,"v":0.8},{"t":1.3819,"v":0.8},{"t":1.3844,"v":1.4},{"t":1.3871,"v":2.8},{"t":1.3893,"v":4.1},{"t":1.3921,"v":4.4},{"t":1.3943,"v":4.1},{"t":1.3965,"v":3},{"t":1.3987,"v":2.2},{"t":1.4014,"v":3.3},{"t":1.4036,"v":7.7},{"t":1.4058,"v":10.6},{"t":1.4075,"v":11},{"t":1.4097,"v":8.5},{"t":1.4119,"v":7},{"t":1.4141,"v":9.1},{"t":1.4161,"v":11.8},{"t":1.4179,"v":13.9},{"t":1.4201,"v":14.9},{"t":1.4218,"v":14.6},{"t":1.424,"v":12.5},{"t":1.426,"v":8.9},{"t":1.4278,"v":4.7},{"t":1.43,"v":2.7},{"t":1.4322,"v":3.3},{"t":1.4339,"v":3.2},{"t":1.4361,"v":2},{"t":1.4377,"v":1.7},{"t":1.4399,"v":2.4},{"t":1.4422,"v":2.8},{"t":1.4449,"v":3},{"t":1.4477,"v":3.3},{"t":1.4499,"v":3.6},{"t":1.4521,"v":3.3},{"t":1.4548,"v":3.3},{"t":1.457,"v":3.6},{"t":1.4598,"v":3},{"t":1.462,"v":2.8},{"t":1.4642,"v":3.2},{"t":1.4664,"v":4.9},{"t":1.4686,"v":6.8},{"t":1.4708,"v":8.7},{"t":1.473,"v":8.9},{"t":1.4746,"v":7.4},{"t":1.4763,"v":5.8},{"t":1.4782,"v":4.9},{"t":1.4802,"v":7.4},{"t":1.4819,"v":11.6},{"t":1.4837,"v":14.6},{"t":1.4856,"v":16.2},{"t":1.4877,"v":14.9},{"t":1.4897,"v":12.3},{"t":1.4919,"v":10.4},{"t":1.4938,"v":9.1},{"t":1.4957,"v":9.8},{"t":1.4977,"v":11.5},{"t":1.5,"v":11}
              ]},
              "mark": {"type": "line", "strokeWidth": 3.5, "clip": true, "color": "#0000ff"},
              "encoding": {
                "x": {"field": "t", "type": "quantitative", "scale": {"domain": [1.1, 1.5], "nice": false}, "axis": {"values": [1.1,1.15,1.2,1.25,1.3,1.35,1.4,1.45,1.5], "format": ".3~f", "title": null}},
                "y": {"field": "v", "type": "quantitative", "scale": {"domain": [0, 40], "nice": false}, "axis": {"values": [0,20,40], "title": "Var. of Ch.4"}}
              }
            },
            {
              "data": {"values": [
                {"t":1.1,"v":0},{"t":1.1697,"v":0},{"t":1.1719,"v":1.1},{"t":1.1736,"v":2.3},{"t":1.1758,"v":3},{"t":1.178,"v":8.1},{"t":1.18,"v":11.4},{"t":1.1819,"v":12.1},{"t":1.1838,"v":16.2},{"t":1.1858,"v":17.3},{"t":1.188,"v":18.1},{"t":1.1897,"v":18.1},{"t":1.1919,"v":19.6},{"t":1.1941,"v":21.2},{"t":1.196,"v":21.3},{"t":1.198,"v":23.3},{"t":1.1997,"v":24.1},{"t":1.2019,"v":24.2},{"t":1.2038,"v":24.8},{"t":1.2058,"v":28},{"t":1.2078,"v":31.5},{"t":1.2119,"v":31.6},{"t":1.2141,"v":32.4},{"t":1.2158,"v":34.5},{"t":1.2178,"v":28.8},{"t":1.22,"v":26.6},{"t":1.2219,"v":27.8},{"t":1.2238,"v":24.4},{"t":1.2263,"v":22.3},{"t":1.2297,"v":22.1},{"t":1.2319,"v":20.7},{"t":1.2341,"v":19.6},{"t":1.2358,"v":20},{"t":1.238,"v":17.7},{"t":1.24,"v":16.5},{"t":1.2441,"v":16.5},{"t":1.2463,"v":13.3},{"t":1.2482,"v":10},{"t":1.2513,"v":9.3},{"t":1.2538,"v":7.4},{"t":1.256,"v":5.5},{"t":1.258,"v":6.4},{"t":1.2602,"v":5},{"t":1.2619,"v":3.6},{"t":1.2641,"v":4.1},{"t":1.2663,"v":5.6},{"t":1.2685,"v":6.6},{"t":1.2724,"v":6.8},{"t":1.2758,"v":6.3},{"t":1.2791,"v":6.2},{"t":1.2824,"v":6.5},{"t":1.2858,"v":6.1},{"t":1.2891,"v":6.2},{"t":1.2935,"v":6.3},{"t":1.2963,"v":5.8},{"t":1.2991,"v":4.3},{"t":1.303,"v":4},{"t":1.3052,"v":3.3},{"t":1.308,"v":2.6},{"t":1.3119,"v":2.3},{"t":1.3141,"v":2.8},{"t":1.3169,"v":3.9},{"t":1.3197,"v":4.7},{"t":1.3224,"v":4.6},{"t":1.3263,"v":5.1},{"t":1.3297,"v":5.5},{"t":1.3344,"v":5.2},{"t":1.337,"v":4.6},{"t":1.3436,"v":4.6},{"t":1.3491,"v":4.8},{"t":1.353,"v":4.8},{"t":1.3557,"v":5.1},{"t":1.359,"v":4.5},{"t":1.3612,"v":4.1},{"t":1.3645,"v":4},{"t":1.369,"v":3.1},{"t":1.3766,"v":3},{"t":1.381,"v":3.1},{"t":1.3866,"v":3},{"t":1.391,"v":3.1},{"t":1.3959,"v":2.8},{"t":1.3992,"v":2.5},{"t":1.402,"v":3.1},{"t":1.4053,"v":5.6},{"t":1.408,"v":7.4},{"t":1.4119,"v":7.8},{"t":1.4146,"v":8.7},{"t":1.4174,"v":9.5},{"t":1.4218,"v":9.7},{"t":1.4256,"v":9.2},{"t":1.4284,"v":8.5},{"t":1.4317,"v":7.5},{"t":1.435,"v":7.4},{"t":1.4377,"v":7.8},{"t":1.4399,"v":8.7},{"t":1.4416,"v":8.7},{"t":1.4438,"v":7},{"t":1.446,"v":5.1},{"t":1.4482,"v":3.6},{"t":1.4515,"v":3.2},{"t":1.4559,"v":2.8},{"t":1.4592,"v":2.6},{"t":1.4636,"v":2.8},{"t":1.4664,"v":3.7},{"t":1.4691,"v":5.4},{"t":1.4724,"v":7},{"t":1.4752,"v":7.5},{"t":1.4785,"v":7},{"t":1.4811,"v":8.1},{"t":1.4844,"v":9.6},{"t":1.4888,"v":9.8},{"t":1.4927,"v":10.1},{"t":1.496,"v":10.1},{"t":1.5,"v":9.5}
              ]},
              "mark": {"type": "line", "strokeWidth": 4, "clip": true, "color": "#008000"},
              "encoding": {
                "x": {"field": "t", "type": "quantitative", "scale": {"domain": [1.1, 1.5], "nice": false}, "axis": null},
                "y": {"field": "v", "type": "quantitative", "scale": {"domain": [0, 40], "nice": false}, "axis": null}
              }
            },
            {
              "data": {"values": [
                {"t":1.1,"v":0},{"t":1.1697,"v":0},{"t":1.1725,"v":1.1},{"t":1.1756,"v":2},{"t":1.1774,"v":5.1},{"t":1.1797,"v":7.6},{"t":1.1819,"v":8.2},{"t":1.1838,"v":10.5},{"t":1.1858,"v":11.6},{"t":1.188,"v":12},{"t":1.1897,"v":12},{"t":1.1919,"v":13.2},{"t":1.1941,"v":14.1},{"t":1.196,"v":14.3},{"t":1.198,"v":15.5},{"t":1.2002,"v":16.1},{"t":1.2036,"v":16.6},{"t":1.2058,"v":18.8},{"t":1.208,"v":20.9},{"t":1.2108,"v":21.1},{"t":1.213,"v":22.5},{"t":1.2158,"v":24.7},{"t":1.218,"v":24.8},{"t":1.2202,"v":25.7},{"t":1.2224,"v":26.6},{"t":1.2297,"v":26.6},{"t":1.2324,"v":26.1},{"t":1.2344,"v":25.4},{"t":1.236,"v":25.2},{"t":1.238,"v":21.7},{"t":1.24,"v":19.6},{"t":1.2419,"v":19.1},{"t":1.2441,"v":17.1},{"t":1.2463,"v":16.3},{"t":1.2497,"v":15.9},{"t":1.2519,"v":15.1},{"t":1.2541,"v":14.1},{"t":1.256,"v":14.5},{"t":1.2586,"v":13.5},{"t":1.2641,"v":13.3},{"t":1.2658,"v":11.6},{"t":1.2678,"v":10},{"t":1.2708,"v":9.7},{"t":1.2735,"v":8.1},{"t":1.2758,"v":6.6},{"t":1.278,"v":6.4},{"t":1.2813,"v":5.2},{"t":1.2847,"v":5},{"t":1.2935,"v":5.4},{"t":1.3019,"v":5.5},{"t":1.3052,"v":4.9},{"t":1.3119,"v":4.9},{"t":1.3202,"v":5.1},{"t":1.3269,"v":4.5},{"t":1.3344,"v":4.3},{"t":1.3447,"v":4.5},{"t":1.3535,"v":4.5},{"t":1.3563,"v":4.3},{"t":1.3601,"v":4.7},{"t":1.3711,"v":4.7},{"t":1.3744,"v":4.2},{"t":1.3766,"v":3.9},{"t":1.3793,"v":3.3},{"t":1.3844,"v":3.3},{"t":1.3877,"v":3},{"t":1.3921,"v":3.5},{"t":1.3998,"v":3.3},{"t":1.402,"v":3.7},{"t":1.4047,"v":5.1},{"t":1.4075,"v":6},{"t":1.4097,"v":6.5},{"t":1.4141,"v":6.5},{"t":1.4179,"v":6.9},{"t":1.4207,"v":6.7},{"t":1.4372,"v":6.7},{"t":1.4405,"v":7.2},{"t":1.4433,"v":7.3},{"t":1.4471,"v":6.9},{"t":1.451,"v":6.3},{"t":1.4537,"v":6.6},{"t":1.457,"v":7},{"t":1.4603,"v":7},{"t":1.4631,"v":6.2},{"t":1.4653,"v":5.4},{"t":1.4675,"v":4.7},{"t":1.4691,"v":4.6},{"t":1.4713,"v":5.6},{"t":1.4735,"v":5.8},{"t":1.4757,"v":5.4},{"t":1.4785,"v":5.2},{"t":1.4811,"v":6},{"t":1.4844,"v":7.4},{"t":1.4888,"v":7.4},{"t":1.4921,"v":7.7},{"t":1.4949,"v":8},{"t":1.4971,"v":8.4},{"t":1.5,"v":8.1}
              ]},
              "mark": {"type": "line", "strokeWidth": 4.5, "clip": true, "color": "#ff0000"},
              "encoding": {
                "x": {"field": "t", "type": "quantitative", "scale": {"domain": [1.1, 1.5], "nice": false}, "axis": null},
                "y": {"field": "v", "type": "quantitative", "scale": {"domain": [0, 40], "nice": false}, "axis": null}
              }
            },
            {
              "data": {"values": [{"t":1.1605,"v":13.1,"t2":1.1697,"v2":0.2}]},
              "mark": {"type": "rule", "color": "black", "strokeWidth": 1.5},
              "encoding": {
                "x": {"field": "t", "type": "quantitative", "scale": {"domain": [1.1, 1.5], "nice": false}, "axis": {"orient": "top", "values": [1.1,1.15,1.2,1.25,1.3,1.35,1.4,1.45,1.5], "labels": false, "title": null}},
                "y": {"field": "v", "type": "quantitative", "scale": {"domain": [0, 40], "nice": false}, "axis": {"orient": "right", "values": [0,20,40], "labels": false, "title": null}},
                "x2": {"field": "t2"}, "y2": {"field": "v2"}
              }
            },
            {
              "data": {"values": [{"t":1.1605,"v":13.1,"t2":1.1697,"v2":0.2}]},
              "mark": {"type": "point", "shape": "M0,0L-0.28,-1L0,-0.75L0.28,-1Z", "filled": true, "size": 3136, "angle": -29, "color": "black", "opacity": 1, "strokeWidth": 0},
              "encoding": {
                "x": {"field": "t2", "type": "quantitative", "scale": {"domain": [1.1, 1.5], "nice": false}, "axis": null},
                "y": {"field": "v2", "type": "quantitative", "scale": {"domain": [0, 40], "nice": false}, "axis": null}
              }
            }
          ]
        },
        {"width": 2646, "height": 59, "view": {"stroke": null}, "data": {"values": [{"gap": 1}]}, "mark": {"type": "text", "text": ""}},
        {
          "width": 2646, "height": 344,
          "resolve": {"axis": {"x": "independent", "y": "independent"}},
          "layer": [
            {
              "data": {"values": [
                {"t":1.1,"v":0},{"t":1.2211,"v":0},{"t":1.2265,"v":0.9},{"t":1.231,"v":1},{"t":1.2392,"v":0.8},{"t":1.2446,"v":1},{"t":1.2482,"v":0.8},{"t":1.2518,"v":0.4},{"t":1.2541,"v":1.9},{"t":1.2563,"v":4},{"t":1.2581,"v":4.7},{"t":1.2599,"v":4.2},{"t":1.2613,"v":7},{"t":1.2631,"v":13.5},{"t":1.2645,"v":18.5},{"t":1.2661,"v":21.5},{"t":1.2681,"v":23.5},{"t":1.2717,"v":23.6},{"t":1.274,"v":25.5},{"t":1.2758,"v":28},{"t":1.278,"v":30.5},{"t":1.2798,"v":33.7},{"t":1.2821,"v":31.8},{"t":1.2839,"v":23.8},{"t":1.2857,"v":19.6},{"t":1.288,"v":21.5},{"t":1.2898,"v":27.6},{"t":1.292,"v":34.5},{"t":1.2938,"v":35.2},{"t":1.2956,"v":29.5},{"t":1.2979,"v":18.5},{"t":1.2999,"v":12.2},{"t":1.302,"v":14.1},{"t":1.3038,"v":21.9},{"t":1.306,"v":29.7},{"t":1.3079,"v":31.8},{"t":1.3101,"v":27.2},{"t":1.3119,"v":22.5},{"t":1.3142,"v":19.4},{"t":1.316,"v":18.3},{"t":1.3182,"v":20.2},{"t":1.32,"v":21.3},{"t":1.3219,"v":19.6},{"t":1.3241,"v":15.4},{"t":1.3259,"v":11.4},{"t":1.328,"v":9.5},{"t":1.33,"v":11.6},{"t":1.3323,"v":14.1},{"t":1.3336,"v":13.7},{"t":1.3354,"v":10.1},{"t":1.3377,"v":6.3},{"t":1.3395,"v":3.2},{"t":1.3418,"v":1.1},{"t":1.3436,"v":0.9},{"t":1.3458,"v":1.9},{"t":1.3476,"v":4},{"t":1.3499,"v":6.3},{"t":1.3517,"v":7.8},{"t":1.354,"v":10.9},{"t":1.3558,"v":11.8},{"t":1.3576,"v":11},{"t":1.3594,"v":8},{"t":1.3607,"v":5.3},{"t":1.3625,"v":6.5},{"t":1.364,"v":7.4},{"t":1.3659,"v":12.8},{"t":1.368,"v":17.3},{"t":1.3702,"v":19},{"t":1.3723,"v":17.7},{"t":1.3744,"v":15.9},{"t":1.376,"v":16.4},{"t":1.3782,"v":20.2},{"t":1.3801,"v":25.3},{"t":1.3824,"v":31.4},{"t":1.3842,"v":31},{"t":1.386,"v":23.8},{"t":1.3883,"v":15.4},{"t":1.3901,"v":10.8},{"t":1.3921,"v":13.9},{"t":1.3942,"v":26.5},{"t":1.3963,"v":36.4},{"t":1.3982,"v":39.5},{"t":1.4,"v":34.9},{"t":1.402,"v":27.6},{"t":1.404,"v":20.1},{"t":1.4061,"v":21},{"t":1.408,"v":27.6},{"t":1.4101,"v":34.1},{"t":1.4121,"v":38.5},{"t":1.4141,"v":34.1},{"t":1.4162,"v":24.9},{"t":1.418,"v":16.6},{"t":1.4201,"v":17.3},{"t":1.4221,"v":24.6},{"t":1.4241,"v":32},{"t":1.426,"v":34.9},{"t":1.4281,"v":30.7},{"t":1.4302,"v":21.9},{"t":1.4322,"v":16.3},{"t":1.4342,"v":19},{"t":1.436,"v":28.4},{"t":1.4381,"v":40.5},{"t":1.4401,"v":43},{"t":1.4422,"v":40.5},{"t":1.444,"v":30.3},{"t":1.4461,"v":23.2},{"t":1.4479,"v":22.9},{"t":1.4495,"v":30.3},{"t":1.4512,"v":40.5},{"t":1.454,"v":45},{"t":1.4568,"v":40.5},{"t":1.4582,"v":32.2},{"t":1.46,"v":23},{"t":1.4619,"v":22.7},{"t":1.4637,"v":30.3},{"t":1.4655,"v":40.5},{"t":1.4678,"v":44},{"t":1.4701,"v":40.5},{"t":1.4715,"v":30.3},{"t":1.474,"v":23.4},{"t":1.4759,"v":24.4},{"t":1.4777,"v":30.3},{"t":1.4799,"v":36.8},{"t":1.482,"v":36},{"t":1.4838,"v":29.1},{"t":1.4859,"v":19.6},{"t":1.4879,"v":13.3},{"t":1.4899,"v":11.8},{"t":1.4917,"v":13.5},{"t":1.4938,"v":15},{"t":1.4959,"v":13.3},{"t":1.498,"v":8.2},{"t":1.5,"v":4}
              ]},
              "mark": {"type": "line", "strokeWidth": 3.5, "clip": true, "color": "#0000ff"},
              "encoding": {
                "x": {"field": "t", "type": "quantitative", "scale": {"domain": [1.1, 1.5], "nice": false}, "axis": {"values": [1.1,1.15,1.2,1.25,1.3,1.35,1.4,1.45,1.5], "format": ".3~f", "title": null}},
                "y": {"field": "v", "type": "quantitative", "scale": {"domain": [0, 40], "nice": false}, "axis": {"values": [0,20,40], "title": "Var. of Ch.5"}}
              }
            },
            {
              "data": {"values": [
                {"t":1.1,"v":0},{"t":1.2211,"v":0.3},{"t":1.2301,"v":0.8},{"t":1.2518,"v":1},{"t":1.2541,"v":2.3},{"t":1.2563,"v":3.6},{"t":1.2581,"v":4.4},{"t":1.2599,"v":4},{"t":1.2622,"v":5.5},{"t":1.2643,"v":8},{"t":1.2663,"v":10.7},{"t":1.2681,"v":11.5},{"t":1.2717,"v":11.8},{"t":1.274,"v":13.5},{"t":1.276,"v":16},{"t":1.278,"v":18.1},{"t":1.28,"v":18.9},{"t":1.2834,"v":19.2},{"t":1.2857,"v":20.2},{"t":1.288,"v":22.7},{"t":1.2902,"v":26.1},{"t":1.292,"v":27.8},{"t":1.2938,"v":28.8},{"t":1.2956,"v":27.7},{"t":1.2979,"v":25.7},{"t":1.2997,"v":25.4},{"t":1.302,"v":26.7},{"t":1.3056,"v":27},{"t":1.3079,"v":26.9},{"t":1.3101,"v":26.5},{"t":1.3119,"v":26.9},{"t":1.3137,"v":26.5},{"t":1.3155,"v":24.8},{"t":1.3178,"v":21.9},{"t":1.32,"v":19.4},{"t":1.3219,"v":18.7},{"t":1.3237,"v":18.9},{"t":1.3259,"v":19.8},{"t":1.3282,"v":19.4},{"t":1.3305,"v":18.1},{"t":1.3327,"v":16.6},{"t":1.3345,"v":15},{"t":1.3363,"v":13.7},{"t":1.3381,"v":13},{"t":1.3404,"v":13.7},{"t":1.3422,"v":13.5},{"t":1.3445,"v":12.4},{"t":1.3463,"v":11.4},{"t":1.3481,"v":11},{"t":1.3512,"v":11.4},{"t":1.354,"v":11.4},{"t":1.3567,"v":10.9},{"t":1.3589,"v":10.3},{"t":1.3607,"v":10.1},{"t":1.3628,"v":10.3},{"t":1.3655,"v":11.5},{"t":1.3696,"v":12.8},{"t":1.3728,"v":12.3},{"t":1.375,"v":12.8},{"t":1.3773,"v":14.2},{"t":1.3801,"v":16.4},{"t":1.3828,"v":17.9},{"t":1.3856,"v":18.5},{"t":1.3897,"v":18.7},{"t":1.392,"v":20.4},{"t":1.3938,"v":23},{"t":1.3961,"v":26.7},{"t":1.3984,"v":28.6},{"t":1.4006,"v":29.1},{"t":1.4038,"v":28.8},{"t":1.4075,"v":28.2},{"t":1.4112,"v":28.8},{"t":1.4139,"v":29.1},{"t":1.4177,"v":28},{"t":1.4203,"v":27.7},{"t":1.424,"v":27.5},{"t":1.4267,"v":27.6},{"t":1.4299,"v":27.5},{"t":1.4326,"v":28.2},{"t":1.4354,"v":28.8},{"t":1.4381,"v":29.7},{"t":1.4404,"v":30.5},{"t":1.4427,"v":30.9},{"t":1.4459,"v":31},{"t":1.4482,"v":31.6},{"t":1.45,"v":32.6},{"t":1.4523,"v":34.1},{"t":1.4546,"v":35},{"t":1.4564,"v":35.4},{"t":1.46,"v":35.1},{"t":1.4623,"v":35.6},{"t":1.4658,"v":36.3},{"t":1.4678,"v":35.8},{"t":1.4701,"v":35.1},{"t":1.4728,"v":35.6},{"t":1.4756,"v":35.8},{"t":1.4779,"v":34.1},{"t":1.4802,"v":31.8},{"t":1.4824,"v":30},{"t":1.4838,"v":29.2},{"t":1.4856,"v":29.7},{"t":1.4879,"v":29.3},{"t":1.4897,"v":27.6},{"t":1.4916,"v":25.3},{"t":1.4938,"v":21.7},{"t":1.4961,"v":19.6},{"t":1.498,"v":19.2},{"t":1.5,"v":19.4}
              ]},
              "mark": {"type": "line", "strokeWidth": 4, "clip": true, "color": "#008000"},
              "encoding": {
                "x": {"field": "t", "type": "quantitative", "scale": {"domain": [1.1, 1.5], "nice": false}, "axis": null},
                "y": {"field": "v", "type": "quantitative", "scale": {"domain": [0, 40], "nice": false}, "axis": null}
              }
            },
            {
              "data": {"values": [
                {"t":1.1,"v":0},{"t":1.2211,"v":0.2},{"t":1.2301,"v":0.5},{"t":1.2464,"v":0.6},{"t":1.2523,"v":0.8},{"t":1.2545,"v":1.7},{"t":1.2568,"v":2.6},{"t":1.2599,"v":2.9},{"t":1.2618,"v":3.5},{"t":1.264,"v":5.6},{"t":1.2663,"v":7.1},{"t":1.2681,"v":7.9},{"t":1.2717,"v":8},{"t":1.274,"v":9.3},{"t":1.2762,"v":11.4},{"t":1.278,"v":12.6},{"t":1.2798,"v":13.3},{"t":1.2839,"v":13.3},{"t":1.2861,"v":14.3},{"t":1.288,"v":15.1},{"t":1.2902,"v":17.1},{"t":1.2925,"v":18.7},{"t":1.2943,"v":20},{"t":1.2961,"v":21.1},{"t":1.2993,"v":21.5},{"t":1.3015,"v":21.9},{"t":1.3033,"v":22.9},{"t":1.3056,"v":24.1},{"t":1.3079,"v":25},{"t":1.3115,"v":25.1},{"t":1.3142,"v":25.3},{"t":1.316,"v":24.8},{"t":1.3178,"v":24.1},{"t":1.321,"v":24},{"t":1.3232,"v":22.7},{"t":1.3255,"v":21.5},{"t":1.3277,"v":21.3},{"t":1.3323,"v":22.1},{"t":1.3341,"v":21.5},{"t":1.3363,"v":20},{"t":1.3381,"v":19},{"t":1.3404,"v":19},{"t":1.3436,"v":19.2},{"t":1.3458,"v":18.9},{"t":1.3476,"v":17.7},{"t":1.3499,"v":16},{"t":1.3517,"v":14.5},{"t":1.3535,"v":13.3},{"t":1.3558,"v":12.8},{"t":1.3594,"v":13.2},{"t":1.3628,"v":12.9},{"t":1.3655,"v":12.6},{"t":1.37,"v":13.2},{"t":1.3723,"v":12.8},{"t":1.3755,"v":12.5},{"t":1.3782,"v":13.3},{"t":1.3805,"v":15.4},{"t":1.3828,"v":17.1},{"t":1.3856,"v":18.7},{"t":1.3883,"v":18.3},{"t":1.391,"v":17.8},{"t":1.3938,"v":19.2},{"t":1.3961,"v":21.1},{"t":1.3984,"v":22.4},{"t":1.4011,"v":22.3},{"t":1.4034,"v":22},{"t":1.4061,"v":22.9},{"t":1.4084,"v":24.1},{"t":1.4116,"v":25.8},{"t":1.4134,"v":25.9},{"t":1.4157,"v":25.3},{"t":1.418,"v":25.3},{"t":1.4203,"v":26.7},{"t":1.423,"v":28.7},{"t":1.4258,"v":29.4},{"t":1.4285,"v":29.1},{"t":1.4317,"v":28.8},{"t":1.434,"v":29.7},{"t":1.4367,"v":31.1},{"t":1.4395,"v":32},{"t":1.4418,"v":31.4},{"t":1.4436,"v":30.4},{"t":1.4459,"v":29.8},{"t":1.4482,"v":30.7},{"t":1.45,"v":32.4},{"t":1.4523,"v":33.9},{"t":1.4537,"v":34.2},{"t":1.4559,"v":33},{"t":1.4578,"v":31.5},{"t":1.46,"v":31},{"t":1.4623,"v":32.6},{"t":1.4646,"v":34.5},{"t":1.4669,"v":35.2},{"t":1.4692,"v":34.3},{"t":1.4715,"v":33.3},{"t":1.4737,"v":33},{"t":1.476,"v":34.5},{"t":1.4779,"v":35.4},{"t":1.4797,"v":35.5},{"t":1.482,"v":34.5},{"t":1.4843,"v":32.5},{"t":1.4861,"v":31.4},{"t":1.4884,"v":30.4},{"t":1.492,"v":30.3},{"t":1.4938,"v":29.7},{"t":1.4961,"v":27.6},{"t":1.498,"v":25.3},{"t":1.5,"v":22.9}
              ]},
              "mark": {"type": "line", "strokeWidth": 4.5, "clip": true, "color": "#ff0000"},
              "encoding": {
                "x": {"field": "t", "type": "quantitative", "scale": {"domain": [1.1, 1.5], "nice": false}, "axis": null},
                "y": {"field": "v", "type": "quantitative", "scale": {"domain": [0, 40], "nice": false}, "axis": null}
              }
            },
            {
              "data": {"values": [{"t":1.2229,"v":15.8,"t2":1.233,"v2":0.2}]},
              "mark": {"type": "rule", "color": "black", "strokeWidth": 1.5},
              "encoding": {
                "x": {"field": "t", "type": "quantitative", "scale": {"domain": [1.1, 1.5], "nice": false}, "axis": {"orient": "top", "values": [1.1,1.15,1.2,1.25,1.3,1.35,1.4,1.45,1.5], "labels": false, "title": null}},
                "y": {"field": "v", "type": "quantitative", "scale": {"domain": [0, 40], "nice": false}, "axis": {"orient": "right", "values": [0,20,40], "labels": false, "title": null}},
                "x2": {"field": "t2"}, "y2": {"field": "v2"}
              }
            },
            {
              "data": {"values": [{"t":1.2229,"v":15.8,"t2":1.233,"v2":0.2}]},
              "mark": {"type": "point", "shape": "M0,0L-0.28,-1L0,-0.75L0.28,-1Z", "filled": true, "size": 3136, "angle": -27, "color": "black", "opacity": 1, "strokeWidth": 0},
              "encoding": {
                "x": {"field": "t2", "type": "quantitative", "scale": {"domain": [1.1, 1.5], "nice": false}, "axis": null},
                "y": {"field": "v2", "type": "quantitative", "scale": {"domain": [0, 40], "nice": false}, "axis": null}
              }
            }
          ]
        },
        {"width": 2646, "height": 59, "view": {"stroke": null}, "data": {"values": [{"gap": 1}]}, "mark": {"type": "text", "text": ""}},
        {
          "width": 2646, "height": 344,
          "resolve": {"axis": {"x": "independent", "y": "independent"}},
          "layer": [
            {
              "data": {"values": [
                {"t":1.1,"v":0},{"t":1.2211,"v":0.1},{"t":1.2265,"v":0.3},{"t":1.2301,"v":0.5},{"t":1.2324,"v":0.7},{"t":1.2346,"v":0.7},{"t":1.2392,"v":0.5},{"t":1.2473,"v":0.6},{"t":1.2518,"v":0.7},{"t":1.2572,"v":0.9},{"t":1.2608,"v":1.2},{"t":1.264,"v":0.8},{"t":1.2672,"v":1.7},{"t":1.2703,"v":2.4},{"t":1.2735,"v":2.8},{"t":1.2776,"v":2.7},{"t":1.2798,"v":3.4},{"t":1.2816,"v":4.8},{"t":1.2839,"v":7.1},{"t":1.2857,"v":7.2},{"t":1.288,"v":6.3},{"t":1.29,"v":7.1},{"t":1.292,"v":9.3},{"t":1.2941,"v":12.7},{"t":1.2961,"v":15.9},{"t":1.2979,"v":18.1},{"t":1.2997,"v":18.1},{"t":1.302,"v":14.2},{"t":1.3038,"v":8.7},{"t":1.3059,"v":5.1},{"t":1.3079,"v":8.1},{"t":1.3097,"v":15.1},{"t":1.3119,"v":20.5},{"t":1.3138,"v":21.2},{"t":1.316,"v":18.6},{"t":1.3183,"v":15.1},{"t":1.3201,"v":12.7},{"t":1.3219,"v":12.4},{"t":1.3241,"v":13.8},{"t":1.3259,"v":15.2},{"t":1.3277,"v":15.2},{"t":1.3296,"v":11.6},{"t":1.3318,"v":5.6},{"t":1.3339,"v":3.1},{"t":1.3357,"v":3.4},{"t":1.3377,"v":6.7},{"t":1.34,"v":9.7},{"t":1.3422,"v":11.2},{"t":1.3438,"v":10.9},{"t":1.3458,"v":9.6},{"t":1.3476,"v":7.6},{"t":1.3494,"v":4.4},{"t":1.3512,"v":2.4},{"t":1.3535,"v":1.8},{"t":1.3558,"v":2.4},{"t":1.3585,"v":3.4},{"t":1.3607,"v":3.7},{"t":1.364,"v":3.6},{"t":1.3659,"v":3.2},{"t":1.3682,"v":2.2},{"t":1.3702,"v":1.7},{"t":1.3723,"v":2.1},{"t":1.3744,"v":3},{"t":1.3762,"v":3.9},{"t":1.3782,"v":4.7},{"t":1.3801,"v":4.5},{"t":1.3819,"v":3.7},{"t":1.3837,"v":3.4},{"t":1.3857,"v":4.8},{"t":1.3878,"v":8.7},{"t":1.3899,"v":12},{"t":1.3921,"v":14},{"t":1.394,"v":13.5},{"t":1.3961,"v":10.5},{"t":1.3982,"v":7.1},{"t":1.4,"v":5.6},{"t":1.402,"v":7.6},{"t":1.404,"v":12.5},{"t":1.4061,"v":15.8},{"t":1.408,"v":15.9},{"t":1.4101,"v":13.2},{"t":1.4119,"v":9.6},{"t":1.4141,"v":7.3},{"t":1.4162,"v":7.8},{"t":1.418,"v":9.9},{"t":1.4201,"v":12.1},{"t":1.4219,"v":12.2},{"t":1.4239,"v":9.9},{"t":1.426,"v":6.6},{"t":1.4281,"v":6.3},{"t":1.4302,"v":9.4},{"t":1.4322,"v":13.4},{"t":1.4342,"v":15.8},{"t":1.436,"v":15.2},{"t":1.4381,"v":12.5},{"t":1.4399,"v":8.7},{"t":1.442,"v":7.2},{"t":1.4441,"v":7.7},{"t":1.4459,"v":9.6},{"t":1.4479,"v":11.1},{"t":1.45,"v":9.7},{"t":1.4518,"v":7.3},{"t":1.4539,"v":4.4},{"t":1.456,"v":3.3},{"t":1.458,"v":3.8},{"t":1.4601,"v":4.8},{"t":1.4619,"v":4.8},{"t":1.4637,"v":4.3},{"t":1.4658,"v":3.1},{"t":1.4678,"v":2.1},{"t":1.4701,"v":1.8},{"t":1.4724,"v":2.2},{"t":1.4751,"v":2.2},{"t":1.4774,"v":1.8},{"t":1.4802,"v":0.9},{"t":1.4829,"v":0.4},{"t":1.4875,"v":0.4},{"t":1.4916,"v":0.1},{"t":1.4957,"v":0.1},{"t":1.498,"v":0.3},{"t":1.5,"v":0.8}
              ]},
              "mark": {"type": "line", "strokeWidth": 3.5, "clip": true, "color": "#0000ff"},
              "encoding": {
                "x": {"field": "t", "type": "quantitative", "scale": {"domain": [1.1, 1.5], "nice": false}, "axis": {"values": [1.1,1.15,1.2,1.25,1.3,1.35,1.4,1.45,1.5], "format": ".3~f", "title": "Time [msec]"}},
                "y": {"field": "v", "type": "quantitative", "scale": {"domain": [0, 30], "nice": false}, "axis": {"values": [0,10,20,30], "title": "Var. of Ch.6"}}
              }
            },
            {
              "data": {"values": [
                {"t":1.1,"v":0},{"t":1.2211,"v":0.1},{"t":1.2319,"v":0.5},{"t":1.2473,"v":0.5},{"t":1.2518,"v":0.7},{"t":1.2563,"v":0.8},{"t":1.2608,"v":1.3},{"t":1.2654,"v":1.4},{"t":1.2681,"v":1.7},{"t":1.2753,"v":1.7},{"t":1.2785,"v":1.8},{"t":1.2807,"v":2.7},{"t":1.2834,"v":3.8},{"t":1.288,"v":3.9},{"t":1.2902,"v":4.7},{"t":1.2925,"v":6.3},{"t":1.2948,"v":7.9},{"t":1.297,"v":9.4},{"t":1.2993,"v":10.6},{"t":1.3007,"v":10.9},{"t":1.3056,"v":10.9},{"t":1.3079,"v":11.9},{"t":1.3101,"v":13.9},{"t":1.3119,"v":15.5},{"t":1.3142,"v":16.2},{"t":1.3183,"v":16.2},{"t":1.3205,"v":15.9},{"t":1.3228,"v":14.9},{"t":1.3255,"v":13.5},{"t":1.3277,"v":13.2},{"t":1.33,"v":13.3},{"t":1.3332,"v":12.3},{"t":1.3359,"v":11.8},{"t":1.34,"v":11.3},{"t":1.3418,"v":11.4},{"t":1.344,"v":11.8},{"t":1.3458,"v":12},{"t":1.3476,"v":11.7},{"t":1.3499,"v":10.6},{"t":1.3521,"v":9.6},{"t":1.354,"v":9.2},{"t":1.3576,"v":9},{"t":1.3598,"v":8.3},{"t":1.3628,"v":7.4},{"t":1.3655,"v":6.7},{"t":1.3677,"v":5.8},{"t":1.37,"v":5},{"t":1.3723,"v":4.5},{"t":1.3755,"v":4.6},{"t":1.3782,"v":4.6},{"t":1.3805,"v":4},{"t":1.3828,"v":3.4},{"t":1.3846,"v":3.4},{"t":1.3865,"v":4},{"t":1.3888,"v":5.3},{"t":1.391,"v":6.7},{"t":1.3933,"v":8},{"t":1.3947,"v":8.6},{"t":1.3984,"v":8.7},{"t":1.4006,"v":8.8},{"t":1.4025,"v":9.4},{"t":1.4043,"v":10.5},{"t":1.4066,"v":11.5},{"t":1.4084,"v":11.9},{"t":1.4102,"v":11.8},{"t":1.413,"v":11.5},{"t":1.4166,"v":11},{"t":1.4203,"v":10.5},{"t":1.4249,"v":10.5},{"t":1.4276,"v":10.6},{"t":1.4299,"v":11},{"t":1.4322,"v":11.3},{"t":1.4345,"v":11},{"t":1.4377,"v":10.5},{"t":1.4413,"v":10.8},{"t":1.4441,"v":10.3},{"t":1.4473,"v":9.9},{"t":1.45,"v":9.6},{"t":1.4532,"v":9.6},{"t":1.4555,"v":9.2},{"t":1.4578,"v":8.3},{"t":1.4601,"v":7.3},{"t":1.4623,"v":6.4},{"t":1.4646,"v":6.1},{"t":1.4678,"v":6.2},{"t":1.4701,"v":5.6},{"t":1.4724,"v":4.4},{"t":1.4751,"v":3.1},{"t":1.477,"v":2.7},{"t":1.482,"v":2.7},{"t":1.4847,"v":2.2},{"t":1.4879,"v":1.6},{"t":1.4925,"v":1.4},{"t":1.4961,"v":1.2},{"t":1.5,"v":0.9}
              ]},
              "mark": {"type": "line", "strokeWidth": 4, "clip": true, "color": "#008000"},
              "encoding": {
                "x": {"field": "t", "type": "quantitative", "scale": {"domain": [1.1, 1.5], "nice": false}, "axis": null},
                "y": {"field": "v", "type": "quantitative", "scale": {"domain": [0, 30], "nice": false}, "axis": null}
              }
            },
            {
              "data": {"values": [
                {"t":1.1,"v":0},{"t":1.2211,"v":0},{"t":1.2301,"v":0.2},{"t":1.2473,"v":0.3},{"t":1.2518,"v":0.5},{"t":1.2572,"v":0.7},{"t":1.2618,"v":1},{"t":1.2663,"v":1.1},{"t":1.2703,"v":1.2},{"t":1.2753,"v":1.4},{"t":1.278,"v":1.5},{"t":1.2807,"v":2.1},{"t":1.2834,"v":3.1},{"t":1.2857,"v":3.3},{"t":1.2884,"v":3.3},{"t":1.2907,"v":3.9},{"t":1.2929,"v":5},{"t":1.2952,"v":6},{"t":1.2975,"v":7.1},{"t":1.2997,"v":8.1},{"t":1.302,"v":8.6},{"t":1.3051,"v":8.7},{"t":1.3074,"v":9},{"t":1.3101,"v":10.2},{"t":1.3124,"v":11.3},{"t":1.3146,"v":11.6},{"t":1.3183,"v":11.7},{"t":1.3205,"v":11.8},{"t":1.3232,"v":12.2},{"t":1.3259,"v":12.5},{"t":1.3296,"v":12.7},{"t":1.3332,"v":12.9},{"t":1.3359,"v":13},{"t":1.3381,"v":13.3},{"t":1.3404,"v":13.8},{"t":1.3431,"v":13.8},{"t":1.3458,"v":13.7},{"t":1.3476,"v":13.9},{"t":1.3494,"v":14.1},{"t":1.3512,"v":13.8},{"t":1.3535,"v":12.9},{"t":1.3558,"v":11.7},{"t":1.358,"v":10.4},{"t":1.3603,"v":9.2},{"t":1.3628,"v":8.9},{"t":1.3673,"v":9},{"t":1.37,"v":8.1},{"t":1.3723,"v":7.1},{"t":1.3746,"v":6.8},{"t":1.3778,"v":7.3},{"t":1.3801,"v":6.8},{"t":1.3824,"v":6.1},{"t":1.3846,"v":5.7},{"t":1.3869,"v":6},{"t":1.3892,"v":6.8},{"t":1.3915,"v":8.1},{"t":1.394,"v":9.4},{"t":1.3963,"v":9.8},{"t":1.3984,"v":9.4},{"t":1.4006,"v":8.6},{"t":1.4034,"v":8.3},{"t":1.4075,"v":8.4},{"t":1.4121,"v":8.3},{"t":1.4148,"v":8.5},{"t":1.4175,"v":9.1},{"t":1.4203,"v":9.7},{"t":1.4239,"v":9.9},{"t":1.4271,"v":10},{"t":1.4294,"v":10.7},{"t":1.4317,"v":11.7},{"t":1.434,"v":12.2},{"t":1.4367,"v":12.2},{"t":1.4395,"v":11.9},{"t":1.4418,"v":11.9},{"t":1.4441,"v":12},{"t":1.4463,"v":11.8},{"t":1.4486,"v":11.1},{"t":1.4509,"v":10.1},{"t":1.4532,"v":9.2},{"t":1.455,"v":8.7},{"t":1.4573,"v":8.7},{"t":1.4601,"v":8.8},{"t":1.4623,"v":8.4},{"t":1.4651,"v":7.9},{"t":1.4678,"v":7.4},{"t":1.4715,"v":7.4},{"t":1.4738,"v":7.3},{"t":1.4765,"v":6.6},{"t":1.4802,"v":5.1},{"t":1.4824,"v":4.7},{"t":1.4861,"v":4.6},{"t":1.4884,"v":4.2},{"t":1.4911,"v":3.3},{"t":1.4934,"v":2.5},{"t":1.4957,"v":2},{"t":1.498,"v":2},{"t":1.5,"v":2.2}
              ]},
              "mark": {"type": "line", "strokeWidth": 4.5, "clip": true, "color": "#ff0000"},
              "encoding": {
                "x": {"field": "t", "type": "quantitative", "scale": {"domain": [1.1, 1.5], "nice": false}, "axis": null},
                "y": {"field": "v", "type": "quantitative", "scale": {"domain": [0, 30], "nice": false}, "axis": null}
              }
            },
            {
              "data": {"values": [{"t":1.2288,"v":10,"t2":1.2375,"v2":0.4}]},
              "mark": {"type": "rule", "color": "black", "strokeWidth": 1.5},
              "encoding": {
                "x": {"field": "t", "type": "quantitative", "scale": {"domain": [1.1, 1.5], "nice": false}, "axis": {"orient": "top", "values": [1.1,1.15,1.2,1.25,1.3,1.35,1.4,1.45,1.5], "labels": false, "title": null}},
                "y": {"field": "v", "type": "quantitative", "scale": {"domain": [0, 30], "nice": false}, "axis": {"orient": "right", "values": [0,10,20,30], "labels": false, "title": null}},
                "x2": {"field": "t2"}, "y2": {"field": "v2"}
              }
            },
            {
              "data": {"values": [{"t":1.2288,"v":10,"t2":1.2375,"v2":0.4}]},
              "mark": {"type": "point", "shape": "M0,0L-0.28,-1L0,-0.75L0.28,-1Z", "filled": true, "size": 3136, "angle": -28, "color": "black", "opacity": 1, "strokeWidth": 0},
              "encoding": {
                "x": {"field": "t2", "type": "quantitative", "scale": {"domain": [1.1, 1.5], "nice": false}, "axis": null},
                "y": {"field": "v2", "type": "quantitative", "scale": {"domain": [0, 30], "nice": false}, "axis": null}
              }
            }
          ]
        }
  ]
}
